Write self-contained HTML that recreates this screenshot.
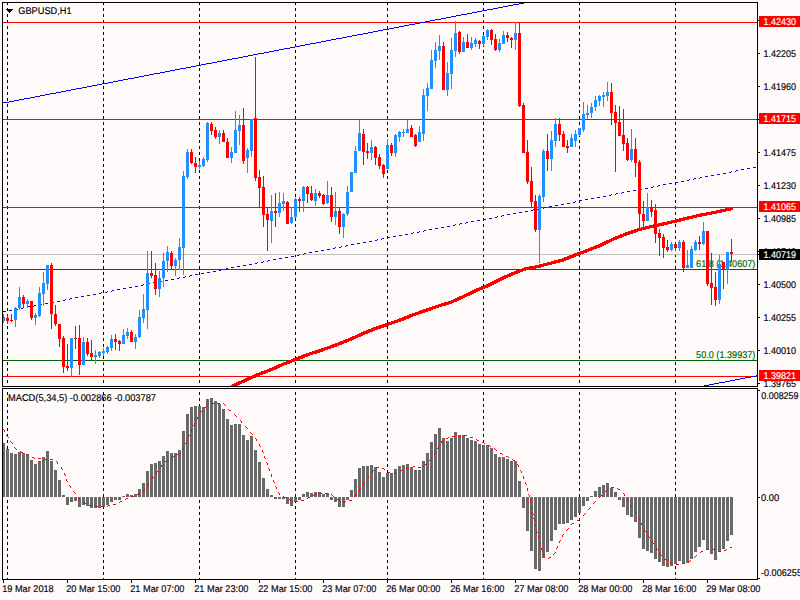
<!DOCTYPE html>
<html><head><meta charset="utf-8"><style>
html,body{margin:0;padding:0;background:#fffafa;}
body{width:800px;height:600px;overflow:hidden;}
svg{display:block;font-family:'Liberation Sans', sans-serif;} text{text-rendering:geometricPrecision;}
</style></head><body>
<svg width="800" height="600" viewBox="0 0 800 600" shape-rendering="crispEdges">
<rect x="0" y="0" width="800" height="600" fill="#fffafa"/>
<rect x="7" y="3" width="1" height="2" fill="#000"/>
<rect x="7" y="8" width="1" height="3" fill="#000"/>
<rect x="7" y="14" width="1" height="3" fill="#000"/>
<rect x="7" y="20" width="1" height="3" fill="#000"/>
<rect x="7" y="26" width="1" height="3" fill="#000"/>
<rect x="7" y="32" width="1" height="3" fill="#000"/>
<rect x="7" y="38" width="1" height="3" fill="#000"/>
<rect x="7" y="44" width="1" height="3" fill="#000"/>
<rect x="7" y="50" width="1" height="3" fill="#000"/>
<rect x="7" y="56" width="1" height="3" fill="#000"/>
<rect x="7" y="62" width="1" height="3" fill="#000"/>
<rect x="7" y="68" width="1" height="3" fill="#000"/>
<rect x="7" y="74" width="1" height="3" fill="#000"/>
<rect x="7" y="80" width="1" height="3" fill="#000"/>
<rect x="7" y="86" width="1" height="3" fill="#000"/>
<rect x="7" y="92" width="1" height="3" fill="#000"/>
<rect x="7" y="98" width="1" height="3" fill="#000"/>
<rect x="7" y="104" width="1" height="3" fill="#000"/>
<rect x="7" y="110" width="1" height="3" fill="#000"/>
<rect x="7" y="116" width="1" height="3" fill="#000"/>
<rect x="7" y="122" width="1" height="3" fill="#000"/>
<rect x="7" y="128" width="1" height="3" fill="#000"/>
<rect x="7" y="134" width="1" height="3" fill="#000"/>
<rect x="7" y="140" width="1" height="3" fill="#000"/>
<rect x="7" y="146" width="1" height="3" fill="#000"/>
<rect x="7" y="152" width="1" height="3" fill="#000"/>
<rect x="7" y="158" width="1" height="3" fill="#000"/>
<rect x="7" y="164" width="1" height="3" fill="#000"/>
<rect x="7" y="170" width="1" height="3" fill="#000"/>
<rect x="7" y="176" width="1" height="3" fill="#000"/>
<rect x="7" y="182" width="1" height="3" fill="#000"/>
<rect x="7" y="188" width="1" height="3" fill="#000"/>
<rect x="7" y="194" width="1" height="3" fill="#000"/>
<rect x="7" y="200" width="1" height="3" fill="#000"/>
<rect x="7" y="206" width="1" height="3" fill="#000"/>
<rect x="7" y="212" width="1" height="3" fill="#000"/>
<rect x="7" y="218" width="1" height="3" fill="#000"/>
<rect x="7" y="224" width="1" height="3" fill="#000"/>
<rect x="7" y="230" width="1" height="3" fill="#000"/>
<rect x="7" y="236" width="1" height="3" fill="#000"/>
<rect x="7" y="242" width="1" height="3" fill="#000"/>
<rect x="7" y="248" width="1" height="3" fill="#000"/>
<rect x="7" y="254" width="1" height="3" fill="#000"/>
<rect x="7" y="260" width="1" height="3" fill="#000"/>
<rect x="7" y="266" width="1" height="3" fill="#000"/>
<rect x="7" y="272" width="1" height="3" fill="#000"/>
<rect x="7" y="278" width="1" height="3" fill="#000"/>
<rect x="7" y="284" width="1" height="3" fill="#000"/>
<rect x="7" y="290" width="1" height="3" fill="#000"/>
<rect x="7" y="296" width="1" height="3" fill="#000"/>
<rect x="7" y="302" width="1" height="3" fill="#000"/>
<rect x="7" y="308" width="1" height="3" fill="#000"/>
<rect x="7" y="314" width="1" height="3" fill="#000"/>
<rect x="7" y="320" width="1" height="3" fill="#000"/>
<rect x="7" y="326" width="1" height="3" fill="#000"/>
<rect x="7" y="332" width="1" height="3" fill="#000"/>
<rect x="7" y="338" width="1" height="3" fill="#000"/>
<rect x="7" y="344" width="1" height="3" fill="#000"/>
<rect x="7" y="350" width="1" height="3" fill="#000"/>
<rect x="7" y="356" width="1" height="3" fill="#000"/>
<rect x="7" y="362" width="1" height="3" fill="#000"/>
<rect x="7" y="368" width="1" height="3" fill="#000"/>
<rect x="7" y="374" width="1" height="3" fill="#000"/>
<rect x="7" y="380" width="1" height="3" fill="#000"/>
<rect x="7" y="392" width="1" height="3" fill="#000"/>
<rect x="7" y="398" width="1" height="3" fill="#000"/>
<rect x="7" y="404" width="1" height="3" fill="#000"/>
<rect x="7" y="410" width="1" height="3" fill="#000"/>
<rect x="7" y="416" width="1" height="3" fill="#000"/>
<rect x="7" y="422" width="1" height="3" fill="#000"/>
<rect x="7" y="428" width="1" height="3" fill="#000"/>
<rect x="7" y="434" width="1" height="3" fill="#000"/>
<rect x="7" y="440" width="1" height="3" fill="#000"/>
<rect x="7" y="446" width="1" height="3" fill="#000"/>
<rect x="7" y="452" width="1" height="3" fill="#000"/>
<rect x="7" y="458" width="1" height="3" fill="#000"/>
<rect x="7" y="464" width="1" height="3" fill="#000"/>
<rect x="7" y="470" width="1" height="3" fill="#000"/>
<rect x="7" y="476" width="1" height="3" fill="#000"/>
<rect x="7" y="482" width="1" height="3" fill="#000"/>
<rect x="7" y="488" width="1" height="3" fill="#000"/>
<rect x="7" y="494" width="1" height="3" fill="#000"/>
<rect x="7" y="500" width="1" height="3" fill="#000"/>
<rect x="7" y="506" width="1" height="3" fill="#000"/>
<rect x="7" y="512" width="1" height="3" fill="#000"/>
<rect x="7" y="518" width="1" height="3" fill="#000"/>
<rect x="7" y="524" width="1" height="3" fill="#000"/>
<rect x="7" y="530" width="1" height="3" fill="#000"/>
<rect x="7" y="536" width="1" height="3" fill="#000"/>
<rect x="7" y="542" width="1" height="3" fill="#000"/>
<rect x="7" y="548" width="1" height="3" fill="#000"/>
<rect x="7" y="554" width="1" height="3" fill="#000"/>
<rect x="7" y="560" width="1" height="3" fill="#000"/>
<rect x="7" y="566" width="1" height="3" fill="#000"/>
<rect x="7" y="572" width="1" height="3" fill="#000"/>
<rect x="7" y="578" width="1" height="1" fill="#000"/>
<rect x="103" y="3" width="1" height="2" fill="#000"/>
<rect x="103" y="8" width="1" height="3" fill="#000"/>
<rect x="103" y="14" width="1" height="3" fill="#000"/>
<rect x="103" y="20" width="1" height="3" fill="#000"/>
<rect x="103" y="26" width="1" height="3" fill="#000"/>
<rect x="103" y="32" width="1" height="3" fill="#000"/>
<rect x="103" y="38" width="1" height="3" fill="#000"/>
<rect x="103" y="44" width="1" height="3" fill="#000"/>
<rect x="103" y="50" width="1" height="3" fill="#000"/>
<rect x="103" y="56" width="1" height="3" fill="#000"/>
<rect x="103" y="62" width="1" height="3" fill="#000"/>
<rect x="103" y="68" width="1" height="3" fill="#000"/>
<rect x="103" y="74" width="1" height="3" fill="#000"/>
<rect x="103" y="80" width="1" height="3" fill="#000"/>
<rect x="103" y="86" width="1" height="3" fill="#000"/>
<rect x="103" y="92" width="1" height="3" fill="#000"/>
<rect x="103" y="98" width="1" height="3" fill="#000"/>
<rect x="103" y="104" width="1" height="3" fill="#000"/>
<rect x="103" y="110" width="1" height="3" fill="#000"/>
<rect x="103" y="116" width="1" height="3" fill="#000"/>
<rect x="103" y="122" width="1" height="3" fill="#000"/>
<rect x="103" y="128" width="1" height="3" fill="#000"/>
<rect x="103" y="134" width="1" height="3" fill="#000"/>
<rect x="103" y="140" width="1" height="3" fill="#000"/>
<rect x="103" y="146" width="1" height="3" fill="#000"/>
<rect x="103" y="152" width="1" height="3" fill="#000"/>
<rect x="103" y="158" width="1" height="3" fill="#000"/>
<rect x="103" y="164" width="1" height="3" fill="#000"/>
<rect x="103" y="170" width="1" height="3" fill="#000"/>
<rect x="103" y="176" width="1" height="3" fill="#000"/>
<rect x="103" y="182" width="1" height="3" fill="#000"/>
<rect x="103" y="188" width="1" height="3" fill="#000"/>
<rect x="103" y="194" width="1" height="3" fill="#000"/>
<rect x="103" y="200" width="1" height="3" fill="#000"/>
<rect x="103" y="206" width="1" height="3" fill="#000"/>
<rect x="103" y="212" width="1" height="3" fill="#000"/>
<rect x="103" y="218" width="1" height="3" fill="#000"/>
<rect x="103" y="224" width="1" height="3" fill="#000"/>
<rect x="103" y="230" width="1" height="3" fill="#000"/>
<rect x="103" y="236" width="1" height="3" fill="#000"/>
<rect x="103" y="242" width="1" height="3" fill="#000"/>
<rect x="103" y="248" width="1" height="3" fill="#000"/>
<rect x="103" y="254" width="1" height="3" fill="#000"/>
<rect x="103" y="260" width="1" height="3" fill="#000"/>
<rect x="103" y="266" width="1" height="3" fill="#000"/>
<rect x="103" y="272" width="1" height="3" fill="#000"/>
<rect x="103" y="278" width="1" height="3" fill="#000"/>
<rect x="103" y="284" width="1" height="3" fill="#000"/>
<rect x="103" y="290" width="1" height="3" fill="#000"/>
<rect x="103" y="296" width="1" height="3" fill="#000"/>
<rect x="103" y="302" width="1" height="3" fill="#000"/>
<rect x="103" y="308" width="1" height="3" fill="#000"/>
<rect x="103" y="314" width="1" height="3" fill="#000"/>
<rect x="103" y="320" width="1" height="3" fill="#000"/>
<rect x="103" y="326" width="1" height="3" fill="#000"/>
<rect x="103" y="332" width="1" height="3" fill="#000"/>
<rect x="103" y="338" width="1" height="3" fill="#000"/>
<rect x="103" y="344" width="1" height="3" fill="#000"/>
<rect x="103" y="350" width="1" height="3" fill="#000"/>
<rect x="103" y="356" width="1" height="3" fill="#000"/>
<rect x="103" y="362" width="1" height="3" fill="#000"/>
<rect x="103" y="368" width="1" height="3" fill="#000"/>
<rect x="103" y="374" width="1" height="3" fill="#000"/>
<rect x="103" y="380" width="1" height="3" fill="#000"/>
<rect x="103" y="392" width="1" height="3" fill="#000"/>
<rect x="103" y="398" width="1" height="3" fill="#000"/>
<rect x="103" y="404" width="1" height="3" fill="#000"/>
<rect x="103" y="410" width="1" height="3" fill="#000"/>
<rect x="103" y="416" width="1" height="3" fill="#000"/>
<rect x="103" y="422" width="1" height="3" fill="#000"/>
<rect x="103" y="428" width="1" height="3" fill="#000"/>
<rect x="103" y="434" width="1" height="3" fill="#000"/>
<rect x="103" y="440" width="1" height="3" fill="#000"/>
<rect x="103" y="446" width="1" height="3" fill="#000"/>
<rect x="103" y="452" width="1" height="3" fill="#000"/>
<rect x="103" y="458" width="1" height="3" fill="#000"/>
<rect x="103" y="464" width="1" height="3" fill="#000"/>
<rect x="103" y="470" width="1" height="3" fill="#000"/>
<rect x="103" y="476" width="1" height="3" fill="#000"/>
<rect x="103" y="482" width="1" height="3" fill="#000"/>
<rect x="103" y="488" width="1" height="3" fill="#000"/>
<rect x="103" y="494" width="1" height="3" fill="#000"/>
<rect x="103" y="500" width="1" height="3" fill="#000"/>
<rect x="103" y="506" width="1" height="3" fill="#000"/>
<rect x="103" y="512" width="1" height="3" fill="#000"/>
<rect x="103" y="518" width="1" height="3" fill="#000"/>
<rect x="103" y="524" width="1" height="3" fill="#000"/>
<rect x="103" y="530" width="1" height="3" fill="#000"/>
<rect x="103" y="536" width="1" height="3" fill="#000"/>
<rect x="103" y="542" width="1" height="3" fill="#000"/>
<rect x="103" y="548" width="1" height="3" fill="#000"/>
<rect x="103" y="554" width="1" height="3" fill="#000"/>
<rect x="103" y="560" width="1" height="3" fill="#000"/>
<rect x="103" y="566" width="1" height="3" fill="#000"/>
<rect x="103" y="572" width="1" height="3" fill="#000"/>
<rect x="103" y="578" width="1" height="1" fill="#000"/>
<rect x="199" y="3" width="1" height="2" fill="#000"/>
<rect x="199" y="8" width="1" height="3" fill="#000"/>
<rect x="199" y="14" width="1" height="3" fill="#000"/>
<rect x="199" y="20" width="1" height="3" fill="#000"/>
<rect x="199" y="26" width="1" height="3" fill="#000"/>
<rect x="199" y="32" width="1" height="3" fill="#000"/>
<rect x="199" y="38" width="1" height="3" fill="#000"/>
<rect x="199" y="44" width="1" height="3" fill="#000"/>
<rect x="199" y="50" width="1" height="3" fill="#000"/>
<rect x="199" y="56" width="1" height="3" fill="#000"/>
<rect x="199" y="62" width="1" height="3" fill="#000"/>
<rect x="199" y="68" width="1" height="3" fill="#000"/>
<rect x="199" y="74" width="1" height="3" fill="#000"/>
<rect x="199" y="80" width="1" height="3" fill="#000"/>
<rect x="199" y="86" width="1" height="3" fill="#000"/>
<rect x="199" y="92" width="1" height="3" fill="#000"/>
<rect x="199" y="98" width="1" height="3" fill="#000"/>
<rect x="199" y="104" width="1" height="3" fill="#000"/>
<rect x="199" y="110" width="1" height="3" fill="#000"/>
<rect x="199" y="116" width="1" height="3" fill="#000"/>
<rect x="199" y="122" width="1" height="3" fill="#000"/>
<rect x="199" y="128" width="1" height="3" fill="#000"/>
<rect x="199" y="134" width="1" height="3" fill="#000"/>
<rect x="199" y="140" width="1" height="3" fill="#000"/>
<rect x="199" y="146" width="1" height="3" fill="#000"/>
<rect x="199" y="152" width="1" height="3" fill="#000"/>
<rect x="199" y="158" width="1" height="3" fill="#000"/>
<rect x="199" y="164" width="1" height="3" fill="#000"/>
<rect x="199" y="170" width="1" height="3" fill="#000"/>
<rect x="199" y="176" width="1" height="3" fill="#000"/>
<rect x="199" y="182" width="1" height="3" fill="#000"/>
<rect x="199" y="188" width="1" height="3" fill="#000"/>
<rect x="199" y="194" width="1" height="3" fill="#000"/>
<rect x="199" y="200" width="1" height="3" fill="#000"/>
<rect x="199" y="206" width="1" height="3" fill="#000"/>
<rect x="199" y="212" width="1" height="3" fill="#000"/>
<rect x="199" y="218" width="1" height="3" fill="#000"/>
<rect x="199" y="224" width="1" height="3" fill="#000"/>
<rect x="199" y="230" width="1" height="3" fill="#000"/>
<rect x="199" y="236" width="1" height="3" fill="#000"/>
<rect x="199" y="242" width="1" height="3" fill="#000"/>
<rect x="199" y="248" width="1" height="3" fill="#000"/>
<rect x="199" y="254" width="1" height="3" fill="#000"/>
<rect x="199" y="260" width="1" height="3" fill="#000"/>
<rect x="199" y="266" width="1" height="3" fill="#000"/>
<rect x="199" y="272" width="1" height="3" fill="#000"/>
<rect x="199" y="278" width="1" height="3" fill="#000"/>
<rect x="199" y="284" width="1" height="3" fill="#000"/>
<rect x="199" y="290" width="1" height="3" fill="#000"/>
<rect x="199" y="296" width="1" height="3" fill="#000"/>
<rect x="199" y="302" width="1" height="3" fill="#000"/>
<rect x="199" y="308" width="1" height="3" fill="#000"/>
<rect x="199" y="314" width="1" height="3" fill="#000"/>
<rect x="199" y="320" width="1" height="3" fill="#000"/>
<rect x="199" y="326" width="1" height="3" fill="#000"/>
<rect x="199" y="332" width="1" height="3" fill="#000"/>
<rect x="199" y="338" width="1" height="3" fill="#000"/>
<rect x="199" y="344" width="1" height="3" fill="#000"/>
<rect x="199" y="350" width="1" height="3" fill="#000"/>
<rect x="199" y="356" width="1" height="3" fill="#000"/>
<rect x="199" y="362" width="1" height="3" fill="#000"/>
<rect x="199" y="368" width="1" height="3" fill="#000"/>
<rect x="199" y="374" width="1" height="3" fill="#000"/>
<rect x="199" y="380" width="1" height="3" fill="#000"/>
<rect x="199" y="392" width="1" height="3" fill="#000"/>
<rect x="199" y="398" width="1" height="3" fill="#000"/>
<rect x="199" y="404" width="1" height="3" fill="#000"/>
<rect x="199" y="410" width="1" height="3" fill="#000"/>
<rect x="199" y="416" width="1" height="3" fill="#000"/>
<rect x="199" y="422" width="1" height="3" fill="#000"/>
<rect x="199" y="428" width="1" height="3" fill="#000"/>
<rect x="199" y="434" width="1" height="3" fill="#000"/>
<rect x="199" y="440" width="1" height="3" fill="#000"/>
<rect x="199" y="446" width="1" height="3" fill="#000"/>
<rect x="199" y="452" width="1" height="3" fill="#000"/>
<rect x="199" y="458" width="1" height="3" fill="#000"/>
<rect x="199" y="464" width="1" height="3" fill="#000"/>
<rect x="199" y="470" width="1" height="3" fill="#000"/>
<rect x="199" y="476" width="1" height="3" fill="#000"/>
<rect x="199" y="482" width="1" height="3" fill="#000"/>
<rect x="199" y="488" width="1" height="3" fill="#000"/>
<rect x="199" y="494" width="1" height="3" fill="#000"/>
<rect x="199" y="500" width="1" height="3" fill="#000"/>
<rect x="199" y="506" width="1" height="3" fill="#000"/>
<rect x="199" y="512" width="1" height="3" fill="#000"/>
<rect x="199" y="518" width="1" height="3" fill="#000"/>
<rect x="199" y="524" width="1" height="3" fill="#000"/>
<rect x="199" y="530" width="1" height="3" fill="#000"/>
<rect x="199" y="536" width="1" height="3" fill="#000"/>
<rect x="199" y="542" width="1" height="3" fill="#000"/>
<rect x="199" y="548" width="1" height="3" fill="#000"/>
<rect x="199" y="554" width="1" height="3" fill="#000"/>
<rect x="199" y="560" width="1" height="3" fill="#000"/>
<rect x="199" y="566" width="1" height="3" fill="#000"/>
<rect x="199" y="572" width="1" height="3" fill="#000"/>
<rect x="199" y="578" width="1" height="1" fill="#000"/>
<rect x="295" y="3" width="1" height="2" fill="#000"/>
<rect x="295" y="8" width="1" height="3" fill="#000"/>
<rect x="295" y="14" width="1" height="3" fill="#000"/>
<rect x="295" y="20" width="1" height="3" fill="#000"/>
<rect x="295" y="26" width="1" height="3" fill="#000"/>
<rect x="295" y="32" width="1" height="3" fill="#000"/>
<rect x="295" y="38" width="1" height="3" fill="#000"/>
<rect x="295" y="44" width="1" height="3" fill="#000"/>
<rect x="295" y="50" width="1" height="3" fill="#000"/>
<rect x="295" y="56" width="1" height="3" fill="#000"/>
<rect x="295" y="62" width="1" height="3" fill="#000"/>
<rect x="295" y="68" width="1" height="3" fill="#000"/>
<rect x="295" y="74" width="1" height="3" fill="#000"/>
<rect x="295" y="80" width="1" height="3" fill="#000"/>
<rect x="295" y="86" width="1" height="3" fill="#000"/>
<rect x="295" y="92" width="1" height="3" fill="#000"/>
<rect x="295" y="98" width="1" height="3" fill="#000"/>
<rect x="295" y="104" width="1" height="3" fill="#000"/>
<rect x="295" y="110" width="1" height="3" fill="#000"/>
<rect x="295" y="116" width="1" height="3" fill="#000"/>
<rect x="295" y="122" width="1" height="3" fill="#000"/>
<rect x="295" y="128" width="1" height="3" fill="#000"/>
<rect x="295" y="134" width="1" height="3" fill="#000"/>
<rect x="295" y="140" width="1" height="3" fill="#000"/>
<rect x="295" y="146" width="1" height="3" fill="#000"/>
<rect x="295" y="152" width="1" height="3" fill="#000"/>
<rect x="295" y="158" width="1" height="3" fill="#000"/>
<rect x="295" y="164" width="1" height="3" fill="#000"/>
<rect x="295" y="170" width="1" height="3" fill="#000"/>
<rect x="295" y="176" width="1" height="3" fill="#000"/>
<rect x="295" y="182" width="1" height="3" fill="#000"/>
<rect x="295" y="188" width="1" height="3" fill="#000"/>
<rect x="295" y="194" width="1" height="3" fill="#000"/>
<rect x="295" y="200" width="1" height="3" fill="#000"/>
<rect x="295" y="206" width="1" height="3" fill="#000"/>
<rect x="295" y="212" width="1" height="3" fill="#000"/>
<rect x="295" y="218" width="1" height="3" fill="#000"/>
<rect x="295" y="224" width="1" height="3" fill="#000"/>
<rect x="295" y="230" width="1" height="3" fill="#000"/>
<rect x="295" y="236" width="1" height="3" fill="#000"/>
<rect x="295" y="242" width="1" height="3" fill="#000"/>
<rect x="295" y="248" width="1" height="3" fill="#000"/>
<rect x="295" y="254" width="1" height="3" fill="#000"/>
<rect x="295" y="260" width="1" height="3" fill="#000"/>
<rect x="295" y="266" width="1" height="3" fill="#000"/>
<rect x="295" y="272" width="1" height="3" fill="#000"/>
<rect x="295" y="278" width="1" height="3" fill="#000"/>
<rect x="295" y="284" width="1" height="3" fill="#000"/>
<rect x="295" y="290" width="1" height="3" fill="#000"/>
<rect x="295" y="296" width="1" height="3" fill="#000"/>
<rect x="295" y="302" width="1" height="3" fill="#000"/>
<rect x="295" y="308" width="1" height="3" fill="#000"/>
<rect x="295" y="314" width="1" height="3" fill="#000"/>
<rect x="295" y="320" width="1" height="3" fill="#000"/>
<rect x="295" y="326" width="1" height="3" fill="#000"/>
<rect x="295" y="332" width="1" height="3" fill="#000"/>
<rect x="295" y="338" width="1" height="3" fill="#000"/>
<rect x="295" y="344" width="1" height="3" fill="#000"/>
<rect x="295" y="350" width="1" height="3" fill="#000"/>
<rect x="295" y="356" width="1" height="3" fill="#000"/>
<rect x="295" y="362" width="1" height="3" fill="#000"/>
<rect x="295" y="368" width="1" height="3" fill="#000"/>
<rect x="295" y="374" width="1" height="3" fill="#000"/>
<rect x="295" y="380" width="1" height="3" fill="#000"/>
<rect x="295" y="392" width="1" height="3" fill="#000"/>
<rect x="295" y="398" width="1" height="3" fill="#000"/>
<rect x="295" y="404" width="1" height="3" fill="#000"/>
<rect x="295" y="410" width="1" height="3" fill="#000"/>
<rect x="295" y="416" width="1" height="3" fill="#000"/>
<rect x="295" y="422" width="1" height="3" fill="#000"/>
<rect x="295" y="428" width="1" height="3" fill="#000"/>
<rect x="295" y="434" width="1" height="3" fill="#000"/>
<rect x="295" y="440" width="1" height="3" fill="#000"/>
<rect x="295" y="446" width="1" height="3" fill="#000"/>
<rect x="295" y="452" width="1" height="3" fill="#000"/>
<rect x="295" y="458" width="1" height="3" fill="#000"/>
<rect x="295" y="464" width="1" height="3" fill="#000"/>
<rect x="295" y="470" width="1" height="3" fill="#000"/>
<rect x="295" y="476" width="1" height="3" fill="#000"/>
<rect x="295" y="482" width="1" height="3" fill="#000"/>
<rect x="295" y="488" width="1" height="3" fill="#000"/>
<rect x="295" y="494" width="1" height="3" fill="#000"/>
<rect x="295" y="500" width="1" height="3" fill="#000"/>
<rect x="295" y="506" width="1" height="3" fill="#000"/>
<rect x="295" y="512" width="1" height="3" fill="#000"/>
<rect x="295" y="518" width="1" height="3" fill="#000"/>
<rect x="295" y="524" width="1" height="3" fill="#000"/>
<rect x="295" y="530" width="1" height="3" fill="#000"/>
<rect x="295" y="536" width="1" height="3" fill="#000"/>
<rect x="295" y="542" width="1" height="3" fill="#000"/>
<rect x="295" y="548" width="1" height="3" fill="#000"/>
<rect x="295" y="554" width="1" height="3" fill="#000"/>
<rect x="295" y="560" width="1" height="3" fill="#000"/>
<rect x="295" y="566" width="1" height="3" fill="#000"/>
<rect x="295" y="572" width="1" height="3" fill="#000"/>
<rect x="295" y="578" width="1" height="1" fill="#000"/>
<rect x="387" y="3" width="1" height="2" fill="#000"/>
<rect x="387" y="8" width="1" height="3" fill="#000"/>
<rect x="387" y="14" width="1" height="3" fill="#000"/>
<rect x="387" y="20" width="1" height="3" fill="#000"/>
<rect x="387" y="26" width="1" height="3" fill="#000"/>
<rect x="387" y="32" width="1" height="3" fill="#000"/>
<rect x="387" y="38" width="1" height="3" fill="#000"/>
<rect x="387" y="44" width="1" height="3" fill="#000"/>
<rect x="387" y="50" width="1" height="3" fill="#000"/>
<rect x="387" y="56" width="1" height="3" fill="#000"/>
<rect x="387" y="62" width="1" height="3" fill="#000"/>
<rect x="387" y="68" width="1" height="3" fill="#000"/>
<rect x="387" y="74" width="1" height="3" fill="#000"/>
<rect x="387" y="80" width="1" height="3" fill="#000"/>
<rect x="387" y="86" width="1" height="3" fill="#000"/>
<rect x="387" y="92" width="1" height="3" fill="#000"/>
<rect x="387" y="98" width="1" height="3" fill="#000"/>
<rect x="387" y="104" width="1" height="3" fill="#000"/>
<rect x="387" y="110" width="1" height="3" fill="#000"/>
<rect x="387" y="116" width="1" height="3" fill="#000"/>
<rect x="387" y="122" width="1" height="3" fill="#000"/>
<rect x="387" y="128" width="1" height="3" fill="#000"/>
<rect x="387" y="134" width="1" height="3" fill="#000"/>
<rect x="387" y="140" width="1" height="3" fill="#000"/>
<rect x="387" y="146" width="1" height="3" fill="#000"/>
<rect x="387" y="152" width="1" height="3" fill="#000"/>
<rect x="387" y="158" width="1" height="3" fill="#000"/>
<rect x="387" y="164" width="1" height="3" fill="#000"/>
<rect x="387" y="170" width="1" height="3" fill="#000"/>
<rect x="387" y="176" width="1" height="3" fill="#000"/>
<rect x="387" y="182" width="1" height="3" fill="#000"/>
<rect x="387" y="188" width="1" height="3" fill="#000"/>
<rect x="387" y="194" width="1" height="3" fill="#000"/>
<rect x="387" y="200" width="1" height="3" fill="#000"/>
<rect x="387" y="206" width="1" height="3" fill="#000"/>
<rect x="387" y="212" width="1" height="3" fill="#000"/>
<rect x="387" y="218" width="1" height="3" fill="#000"/>
<rect x="387" y="224" width="1" height="3" fill="#000"/>
<rect x="387" y="230" width="1" height="3" fill="#000"/>
<rect x="387" y="236" width="1" height="3" fill="#000"/>
<rect x="387" y="242" width="1" height="3" fill="#000"/>
<rect x="387" y="248" width="1" height="3" fill="#000"/>
<rect x="387" y="254" width="1" height="3" fill="#000"/>
<rect x="387" y="260" width="1" height="3" fill="#000"/>
<rect x="387" y="266" width="1" height="3" fill="#000"/>
<rect x="387" y="272" width="1" height="3" fill="#000"/>
<rect x="387" y="278" width="1" height="3" fill="#000"/>
<rect x="387" y="284" width="1" height="3" fill="#000"/>
<rect x="387" y="290" width="1" height="3" fill="#000"/>
<rect x="387" y="296" width="1" height="3" fill="#000"/>
<rect x="387" y="302" width="1" height="3" fill="#000"/>
<rect x="387" y="308" width="1" height="3" fill="#000"/>
<rect x="387" y="314" width="1" height="3" fill="#000"/>
<rect x="387" y="320" width="1" height="3" fill="#000"/>
<rect x="387" y="326" width="1" height="3" fill="#000"/>
<rect x="387" y="332" width="1" height="3" fill="#000"/>
<rect x="387" y="338" width="1" height="3" fill="#000"/>
<rect x="387" y="344" width="1" height="3" fill="#000"/>
<rect x="387" y="350" width="1" height="3" fill="#000"/>
<rect x="387" y="356" width="1" height="3" fill="#000"/>
<rect x="387" y="362" width="1" height="3" fill="#000"/>
<rect x="387" y="368" width="1" height="3" fill="#000"/>
<rect x="387" y="374" width="1" height="3" fill="#000"/>
<rect x="387" y="380" width="1" height="3" fill="#000"/>
<rect x="387" y="392" width="1" height="3" fill="#000"/>
<rect x="387" y="398" width="1" height="3" fill="#000"/>
<rect x="387" y="404" width="1" height="3" fill="#000"/>
<rect x="387" y="410" width="1" height="3" fill="#000"/>
<rect x="387" y="416" width="1" height="3" fill="#000"/>
<rect x="387" y="422" width="1" height="3" fill="#000"/>
<rect x="387" y="428" width="1" height="3" fill="#000"/>
<rect x="387" y="434" width="1" height="3" fill="#000"/>
<rect x="387" y="440" width="1" height="3" fill="#000"/>
<rect x="387" y="446" width="1" height="3" fill="#000"/>
<rect x="387" y="452" width="1" height="3" fill="#000"/>
<rect x="387" y="458" width="1" height="3" fill="#000"/>
<rect x="387" y="464" width="1" height="3" fill="#000"/>
<rect x="387" y="470" width="1" height="3" fill="#000"/>
<rect x="387" y="476" width="1" height="3" fill="#000"/>
<rect x="387" y="482" width="1" height="3" fill="#000"/>
<rect x="387" y="488" width="1" height="3" fill="#000"/>
<rect x="387" y="494" width="1" height="3" fill="#000"/>
<rect x="387" y="500" width="1" height="3" fill="#000"/>
<rect x="387" y="506" width="1" height="3" fill="#000"/>
<rect x="387" y="512" width="1" height="3" fill="#000"/>
<rect x="387" y="518" width="1" height="3" fill="#000"/>
<rect x="387" y="524" width="1" height="3" fill="#000"/>
<rect x="387" y="530" width="1" height="3" fill="#000"/>
<rect x="387" y="536" width="1" height="3" fill="#000"/>
<rect x="387" y="542" width="1" height="3" fill="#000"/>
<rect x="387" y="548" width="1" height="3" fill="#000"/>
<rect x="387" y="554" width="1" height="3" fill="#000"/>
<rect x="387" y="560" width="1" height="3" fill="#000"/>
<rect x="387" y="566" width="1" height="3" fill="#000"/>
<rect x="387" y="572" width="1" height="3" fill="#000"/>
<rect x="387" y="578" width="1" height="1" fill="#000"/>
<rect x="483" y="3" width="1" height="2" fill="#000"/>
<rect x="483" y="8" width="1" height="3" fill="#000"/>
<rect x="483" y="14" width="1" height="3" fill="#000"/>
<rect x="483" y="20" width="1" height="3" fill="#000"/>
<rect x="483" y="26" width="1" height="3" fill="#000"/>
<rect x="483" y="32" width="1" height="3" fill="#000"/>
<rect x="483" y="38" width="1" height="3" fill="#000"/>
<rect x="483" y="44" width="1" height="3" fill="#000"/>
<rect x="483" y="50" width="1" height="3" fill="#000"/>
<rect x="483" y="56" width="1" height="3" fill="#000"/>
<rect x="483" y="62" width="1" height="3" fill="#000"/>
<rect x="483" y="68" width="1" height="3" fill="#000"/>
<rect x="483" y="74" width="1" height="3" fill="#000"/>
<rect x="483" y="80" width="1" height="3" fill="#000"/>
<rect x="483" y="86" width="1" height="3" fill="#000"/>
<rect x="483" y="92" width="1" height="3" fill="#000"/>
<rect x="483" y="98" width="1" height="3" fill="#000"/>
<rect x="483" y="104" width="1" height="3" fill="#000"/>
<rect x="483" y="110" width="1" height="3" fill="#000"/>
<rect x="483" y="116" width="1" height="3" fill="#000"/>
<rect x="483" y="122" width="1" height="3" fill="#000"/>
<rect x="483" y="128" width="1" height="3" fill="#000"/>
<rect x="483" y="134" width="1" height="3" fill="#000"/>
<rect x="483" y="140" width="1" height="3" fill="#000"/>
<rect x="483" y="146" width="1" height="3" fill="#000"/>
<rect x="483" y="152" width="1" height="3" fill="#000"/>
<rect x="483" y="158" width="1" height="3" fill="#000"/>
<rect x="483" y="164" width="1" height="3" fill="#000"/>
<rect x="483" y="170" width="1" height="3" fill="#000"/>
<rect x="483" y="176" width="1" height="3" fill="#000"/>
<rect x="483" y="182" width="1" height="3" fill="#000"/>
<rect x="483" y="188" width="1" height="3" fill="#000"/>
<rect x="483" y="194" width="1" height="3" fill="#000"/>
<rect x="483" y="200" width="1" height="3" fill="#000"/>
<rect x="483" y="206" width="1" height="3" fill="#000"/>
<rect x="483" y="212" width="1" height="3" fill="#000"/>
<rect x="483" y="218" width="1" height="3" fill="#000"/>
<rect x="483" y="224" width="1" height="3" fill="#000"/>
<rect x="483" y="230" width="1" height="3" fill="#000"/>
<rect x="483" y="236" width="1" height="3" fill="#000"/>
<rect x="483" y="242" width="1" height="3" fill="#000"/>
<rect x="483" y="248" width="1" height="3" fill="#000"/>
<rect x="483" y="254" width="1" height="3" fill="#000"/>
<rect x="483" y="260" width="1" height="3" fill="#000"/>
<rect x="483" y="266" width="1" height="3" fill="#000"/>
<rect x="483" y="272" width="1" height="3" fill="#000"/>
<rect x="483" y="278" width="1" height="3" fill="#000"/>
<rect x="483" y="284" width="1" height="3" fill="#000"/>
<rect x="483" y="290" width="1" height="3" fill="#000"/>
<rect x="483" y="296" width="1" height="3" fill="#000"/>
<rect x="483" y="302" width="1" height="3" fill="#000"/>
<rect x="483" y="308" width="1" height="3" fill="#000"/>
<rect x="483" y="314" width="1" height="3" fill="#000"/>
<rect x="483" y="320" width="1" height="3" fill="#000"/>
<rect x="483" y="326" width="1" height="3" fill="#000"/>
<rect x="483" y="332" width="1" height="3" fill="#000"/>
<rect x="483" y="338" width="1" height="3" fill="#000"/>
<rect x="483" y="344" width="1" height="3" fill="#000"/>
<rect x="483" y="350" width="1" height="3" fill="#000"/>
<rect x="483" y="356" width="1" height="3" fill="#000"/>
<rect x="483" y="362" width="1" height="3" fill="#000"/>
<rect x="483" y="368" width="1" height="3" fill="#000"/>
<rect x="483" y="374" width="1" height="3" fill="#000"/>
<rect x="483" y="380" width="1" height="3" fill="#000"/>
<rect x="483" y="392" width="1" height="3" fill="#000"/>
<rect x="483" y="398" width="1" height="3" fill="#000"/>
<rect x="483" y="404" width="1" height="3" fill="#000"/>
<rect x="483" y="410" width="1" height="3" fill="#000"/>
<rect x="483" y="416" width="1" height="3" fill="#000"/>
<rect x="483" y="422" width="1" height="3" fill="#000"/>
<rect x="483" y="428" width="1" height="3" fill="#000"/>
<rect x="483" y="434" width="1" height="3" fill="#000"/>
<rect x="483" y="440" width="1" height="3" fill="#000"/>
<rect x="483" y="446" width="1" height="3" fill="#000"/>
<rect x="483" y="452" width="1" height="3" fill="#000"/>
<rect x="483" y="458" width="1" height="3" fill="#000"/>
<rect x="483" y="464" width="1" height="3" fill="#000"/>
<rect x="483" y="470" width="1" height="3" fill="#000"/>
<rect x="483" y="476" width="1" height="3" fill="#000"/>
<rect x="483" y="482" width="1" height="3" fill="#000"/>
<rect x="483" y="488" width="1" height="3" fill="#000"/>
<rect x="483" y="494" width="1" height="3" fill="#000"/>
<rect x="483" y="500" width="1" height="3" fill="#000"/>
<rect x="483" y="506" width="1" height="3" fill="#000"/>
<rect x="483" y="512" width="1" height="3" fill="#000"/>
<rect x="483" y="518" width="1" height="3" fill="#000"/>
<rect x="483" y="524" width="1" height="3" fill="#000"/>
<rect x="483" y="530" width="1" height="3" fill="#000"/>
<rect x="483" y="536" width="1" height="3" fill="#000"/>
<rect x="483" y="542" width="1" height="3" fill="#000"/>
<rect x="483" y="548" width="1" height="3" fill="#000"/>
<rect x="483" y="554" width="1" height="3" fill="#000"/>
<rect x="483" y="560" width="1" height="3" fill="#000"/>
<rect x="483" y="566" width="1" height="3" fill="#000"/>
<rect x="483" y="572" width="1" height="3" fill="#000"/>
<rect x="483" y="578" width="1" height="1" fill="#000"/>
<rect x="579" y="3" width="1" height="2" fill="#000"/>
<rect x="579" y="8" width="1" height="3" fill="#000"/>
<rect x="579" y="14" width="1" height="3" fill="#000"/>
<rect x="579" y="20" width="1" height="3" fill="#000"/>
<rect x="579" y="26" width="1" height="3" fill="#000"/>
<rect x="579" y="32" width="1" height="3" fill="#000"/>
<rect x="579" y="38" width="1" height="3" fill="#000"/>
<rect x="579" y="44" width="1" height="3" fill="#000"/>
<rect x="579" y="50" width="1" height="3" fill="#000"/>
<rect x="579" y="56" width="1" height="3" fill="#000"/>
<rect x="579" y="62" width="1" height="3" fill="#000"/>
<rect x="579" y="68" width="1" height="3" fill="#000"/>
<rect x="579" y="74" width="1" height="3" fill="#000"/>
<rect x="579" y="80" width="1" height="3" fill="#000"/>
<rect x="579" y="86" width="1" height="3" fill="#000"/>
<rect x="579" y="92" width="1" height="3" fill="#000"/>
<rect x="579" y="98" width="1" height="3" fill="#000"/>
<rect x="579" y="104" width="1" height="3" fill="#000"/>
<rect x="579" y="110" width="1" height="3" fill="#000"/>
<rect x="579" y="116" width="1" height="3" fill="#000"/>
<rect x="579" y="122" width="1" height="3" fill="#000"/>
<rect x="579" y="128" width="1" height="3" fill="#000"/>
<rect x="579" y="134" width="1" height="3" fill="#000"/>
<rect x="579" y="140" width="1" height="3" fill="#000"/>
<rect x="579" y="146" width="1" height="3" fill="#000"/>
<rect x="579" y="152" width="1" height="3" fill="#000"/>
<rect x="579" y="158" width="1" height="3" fill="#000"/>
<rect x="579" y="164" width="1" height="3" fill="#000"/>
<rect x="579" y="170" width="1" height="3" fill="#000"/>
<rect x="579" y="176" width="1" height="3" fill="#000"/>
<rect x="579" y="182" width="1" height="3" fill="#000"/>
<rect x="579" y="188" width="1" height="3" fill="#000"/>
<rect x="579" y="194" width="1" height="3" fill="#000"/>
<rect x="579" y="200" width="1" height="3" fill="#000"/>
<rect x="579" y="206" width="1" height="3" fill="#000"/>
<rect x="579" y="212" width="1" height="3" fill="#000"/>
<rect x="579" y="218" width="1" height="3" fill="#000"/>
<rect x="579" y="224" width="1" height="3" fill="#000"/>
<rect x="579" y="230" width="1" height="3" fill="#000"/>
<rect x="579" y="236" width="1" height="3" fill="#000"/>
<rect x="579" y="242" width="1" height="3" fill="#000"/>
<rect x="579" y="248" width="1" height="3" fill="#000"/>
<rect x="579" y="254" width="1" height="3" fill="#000"/>
<rect x="579" y="260" width="1" height="3" fill="#000"/>
<rect x="579" y="266" width="1" height="3" fill="#000"/>
<rect x="579" y="272" width="1" height="3" fill="#000"/>
<rect x="579" y="278" width="1" height="3" fill="#000"/>
<rect x="579" y="284" width="1" height="3" fill="#000"/>
<rect x="579" y="290" width="1" height="3" fill="#000"/>
<rect x="579" y="296" width="1" height="3" fill="#000"/>
<rect x="579" y="302" width="1" height="3" fill="#000"/>
<rect x="579" y="308" width="1" height="3" fill="#000"/>
<rect x="579" y="314" width="1" height="3" fill="#000"/>
<rect x="579" y="320" width="1" height="3" fill="#000"/>
<rect x="579" y="326" width="1" height="3" fill="#000"/>
<rect x="579" y="332" width="1" height="3" fill="#000"/>
<rect x="579" y="338" width="1" height="3" fill="#000"/>
<rect x="579" y="344" width="1" height="3" fill="#000"/>
<rect x="579" y="350" width="1" height="3" fill="#000"/>
<rect x="579" y="356" width="1" height="3" fill="#000"/>
<rect x="579" y="362" width="1" height="3" fill="#000"/>
<rect x="579" y="368" width="1" height="3" fill="#000"/>
<rect x="579" y="374" width="1" height="3" fill="#000"/>
<rect x="579" y="380" width="1" height="3" fill="#000"/>
<rect x="579" y="392" width="1" height="3" fill="#000"/>
<rect x="579" y="398" width="1" height="3" fill="#000"/>
<rect x="579" y="404" width="1" height="3" fill="#000"/>
<rect x="579" y="410" width="1" height="3" fill="#000"/>
<rect x="579" y="416" width="1" height="3" fill="#000"/>
<rect x="579" y="422" width="1" height="3" fill="#000"/>
<rect x="579" y="428" width="1" height="3" fill="#000"/>
<rect x="579" y="434" width="1" height="3" fill="#000"/>
<rect x="579" y="440" width="1" height="3" fill="#000"/>
<rect x="579" y="446" width="1" height="3" fill="#000"/>
<rect x="579" y="452" width="1" height="3" fill="#000"/>
<rect x="579" y="458" width="1" height="3" fill="#000"/>
<rect x="579" y="464" width="1" height="3" fill="#000"/>
<rect x="579" y="470" width="1" height="3" fill="#000"/>
<rect x="579" y="476" width="1" height="3" fill="#000"/>
<rect x="579" y="482" width="1" height="3" fill="#000"/>
<rect x="579" y="488" width="1" height="3" fill="#000"/>
<rect x="579" y="494" width="1" height="3" fill="#000"/>
<rect x="579" y="500" width="1" height="3" fill="#000"/>
<rect x="579" y="506" width="1" height="3" fill="#000"/>
<rect x="579" y="512" width="1" height="3" fill="#000"/>
<rect x="579" y="518" width="1" height="3" fill="#000"/>
<rect x="579" y="524" width="1" height="3" fill="#000"/>
<rect x="579" y="530" width="1" height="3" fill="#000"/>
<rect x="579" y="536" width="1" height="3" fill="#000"/>
<rect x="579" y="542" width="1" height="3" fill="#000"/>
<rect x="579" y="548" width="1" height="3" fill="#000"/>
<rect x="579" y="554" width="1" height="3" fill="#000"/>
<rect x="579" y="560" width="1" height="3" fill="#000"/>
<rect x="579" y="566" width="1" height="3" fill="#000"/>
<rect x="579" y="572" width="1" height="3" fill="#000"/>
<rect x="579" y="578" width="1" height="1" fill="#000"/>
<rect x="675" y="3" width="1" height="2" fill="#000"/>
<rect x="675" y="8" width="1" height="3" fill="#000"/>
<rect x="675" y="14" width="1" height="3" fill="#000"/>
<rect x="675" y="20" width="1" height="3" fill="#000"/>
<rect x="675" y="26" width="1" height="3" fill="#000"/>
<rect x="675" y="32" width="1" height="3" fill="#000"/>
<rect x="675" y="38" width="1" height="3" fill="#000"/>
<rect x="675" y="44" width="1" height="3" fill="#000"/>
<rect x="675" y="50" width="1" height="3" fill="#000"/>
<rect x="675" y="56" width="1" height="3" fill="#000"/>
<rect x="675" y="62" width="1" height="3" fill="#000"/>
<rect x="675" y="68" width="1" height="3" fill="#000"/>
<rect x="675" y="74" width="1" height="3" fill="#000"/>
<rect x="675" y="80" width="1" height="3" fill="#000"/>
<rect x="675" y="86" width="1" height="3" fill="#000"/>
<rect x="675" y="92" width="1" height="3" fill="#000"/>
<rect x="675" y="98" width="1" height="3" fill="#000"/>
<rect x="675" y="104" width="1" height="3" fill="#000"/>
<rect x="675" y="110" width="1" height="3" fill="#000"/>
<rect x="675" y="116" width="1" height="3" fill="#000"/>
<rect x="675" y="122" width="1" height="3" fill="#000"/>
<rect x="675" y="128" width="1" height="3" fill="#000"/>
<rect x="675" y="134" width="1" height="3" fill="#000"/>
<rect x="675" y="140" width="1" height="3" fill="#000"/>
<rect x="675" y="146" width="1" height="3" fill="#000"/>
<rect x="675" y="152" width="1" height="3" fill="#000"/>
<rect x="675" y="158" width="1" height="3" fill="#000"/>
<rect x="675" y="164" width="1" height="3" fill="#000"/>
<rect x="675" y="170" width="1" height="3" fill="#000"/>
<rect x="675" y="176" width="1" height="3" fill="#000"/>
<rect x="675" y="182" width="1" height="3" fill="#000"/>
<rect x="675" y="188" width="1" height="3" fill="#000"/>
<rect x="675" y="194" width="1" height="3" fill="#000"/>
<rect x="675" y="200" width="1" height="3" fill="#000"/>
<rect x="675" y="206" width="1" height="3" fill="#000"/>
<rect x="675" y="212" width="1" height="3" fill="#000"/>
<rect x="675" y="218" width="1" height="3" fill="#000"/>
<rect x="675" y="224" width="1" height="3" fill="#000"/>
<rect x="675" y="230" width="1" height="3" fill="#000"/>
<rect x="675" y="236" width="1" height="3" fill="#000"/>
<rect x="675" y="242" width="1" height="3" fill="#000"/>
<rect x="675" y="248" width="1" height="3" fill="#000"/>
<rect x="675" y="254" width="1" height="3" fill="#000"/>
<rect x="675" y="260" width="1" height="3" fill="#000"/>
<rect x="675" y="266" width="1" height="3" fill="#000"/>
<rect x="675" y="272" width="1" height="3" fill="#000"/>
<rect x="675" y="278" width="1" height="3" fill="#000"/>
<rect x="675" y="284" width="1" height="3" fill="#000"/>
<rect x="675" y="290" width="1" height="3" fill="#000"/>
<rect x="675" y="296" width="1" height="3" fill="#000"/>
<rect x="675" y="302" width="1" height="3" fill="#000"/>
<rect x="675" y="308" width="1" height="3" fill="#000"/>
<rect x="675" y="314" width="1" height="3" fill="#000"/>
<rect x="675" y="320" width="1" height="3" fill="#000"/>
<rect x="675" y="326" width="1" height="3" fill="#000"/>
<rect x="675" y="332" width="1" height="3" fill="#000"/>
<rect x="675" y="338" width="1" height="3" fill="#000"/>
<rect x="675" y="344" width="1" height="3" fill="#000"/>
<rect x="675" y="350" width="1" height="3" fill="#000"/>
<rect x="675" y="356" width="1" height="3" fill="#000"/>
<rect x="675" y="362" width="1" height="3" fill="#000"/>
<rect x="675" y="368" width="1" height="3" fill="#000"/>
<rect x="675" y="374" width="1" height="3" fill="#000"/>
<rect x="675" y="380" width="1" height="3" fill="#000"/>
<rect x="675" y="392" width="1" height="3" fill="#000"/>
<rect x="675" y="398" width="1" height="3" fill="#000"/>
<rect x="675" y="404" width="1" height="3" fill="#000"/>
<rect x="675" y="410" width="1" height="3" fill="#000"/>
<rect x="675" y="416" width="1" height="3" fill="#000"/>
<rect x="675" y="422" width="1" height="3" fill="#000"/>
<rect x="675" y="428" width="1" height="3" fill="#000"/>
<rect x="675" y="434" width="1" height="3" fill="#000"/>
<rect x="675" y="440" width="1" height="3" fill="#000"/>
<rect x="675" y="446" width="1" height="3" fill="#000"/>
<rect x="675" y="452" width="1" height="3" fill="#000"/>
<rect x="675" y="458" width="1" height="3" fill="#000"/>
<rect x="675" y="464" width="1" height="3" fill="#000"/>
<rect x="675" y="470" width="1" height="3" fill="#000"/>
<rect x="675" y="476" width="1" height="3" fill="#000"/>
<rect x="675" y="482" width="1" height="3" fill="#000"/>
<rect x="675" y="488" width="1" height="3" fill="#000"/>
<rect x="675" y="494" width="1" height="3" fill="#000"/>
<rect x="675" y="500" width="1" height="3" fill="#000"/>
<rect x="675" y="506" width="1" height="3" fill="#000"/>
<rect x="675" y="512" width="1" height="3" fill="#000"/>
<rect x="675" y="518" width="1" height="3" fill="#000"/>
<rect x="675" y="524" width="1" height="3" fill="#000"/>
<rect x="675" y="530" width="1" height="3" fill="#000"/>
<rect x="675" y="536" width="1" height="3" fill="#000"/>
<rect x="675" y="542" width="1" height="3" fill="#000"/>
<rect x="675" y="548" width="1" height="3" fill="#000"/>
<rect x="675" y="554" width="1" height="3" fill="#000"/>
<rect x="675" y="560" width="1" height="3" fill="#000"/>
<rect x="675" y="566" width="1" height="3" fill="#000"/>
<rect x="675" y="572" width="1" height="3" fill="#000"/>
<rect x="675" y="578" width="1" height="1" fill="#000"/>
<rect x="3" y="22" width="754" height="1" fill="#ff0000"/>
<rect x="3" y="119" width="754" height="1" fill="#ff0000"/>
<rect x="3" y="207" width="754" height="1" fill="#ff0000"/>
<rect x="3" y="376" width="754" height="1" fill="#ff0000"/>
<rect x="3" y="269" width="754" height="1" fill="#006400"/>
<rect x="3" y="360" width="754" height="1" fill="#006400"/>
<rect x="3" y="254" width="754" height="1" fill="#c0c0c0"/>
<rect x="279" y="49" width="5" height="1" fill="#0000ff"/>
<rect x="441" y="18" width="5" height="1" fill="#0000ff"/>
<rect x="243" y="56" width="5" height="1" fill="#0000ff"/>
<rect x="201" y="64" width="5" height="1" fill="#0000ff"/>
<rect x="498" y="7" width="5" height="1" fill="#0000ff"/>
<rect x="50" y="93" width="6" height="1" fill="#0000ff"/>
<rect x="409" y="24" width="6" height="1" fill="#0000ff"/>
<rect x="373" y="31" width="5" height="1" fill="#0000ff"/>
<rect x="258" y="53" width="6" height="1" fill="#0000ff"/>
<rect x="61" y="91" width="5" height="1" fill="#0000ff"/>
<rect x="503" y="6" width="5" height="1" fill="#0000ff"/>
<rect x="389" y="28" width="5" height="1" fill="#0000ff"/>
<rect x="191" y="66" width="5" height="1" fill="#0000ff"/>
<rect x="352" y="35" width="5" height="1" fill="#0000ff"/>
<rect x="154" y="73" width="6" height="1" fill="#0000ff"/>
<rect x="461" y="14" width="6" height="1" fill="#0000ff"/>
<rect x="519" y="3" width="5" height="1" fill="#0000ff"/>
<rect x="482" y="10" width="5" height="1" fill="#0000ff"/>
<rect x="284" y="48" width="6" height="1" fill="#0000ff"/>
<rect x="87" y="86" width="5" height="1" fill="#0000ff"/>
<rect x="170" y="70" width="5" height="1" fill="#0000ff"/>
<rect x="394" y="27" width="5" height="1" fill="#0000ff"/>
<rect x="9" y="101" width="5" height="1" fill="#0000ff"/>
<rect x="415" y="23" width="5" height="1" fill="#0000ff"/>
<rect x="264" y="52" width="5" height="1" fill="#0000ff"/>
<rect x="66" y="90" width="5" height="1" fill="#0000ff"/>
<rect x="435" y="19" width="6" height="1" fill="#0000ff"/>
<rect x="238" y="57" width="5" height="1" fill="#0000ff"/>
<rect x="175" y="69" width="5" height="1" fill="#0000ff"/>
<rect x="123" y="79" width="5" height="1" fill="#0000ff"/>
<rect x="196" y="65" width="5" height="1" fill="#0000ff"/>
<rect x="368" y="32" width="5" height="1" fill="#0000ff"/>
<rect x="253" y="54" width="5" height="1" fill="#0000ff"/>
<rect x="217" y="61" width="5" height="1" fill="#0000ff"/>
<rect x="19" y="99" width="5" height="1" fill="#0000ff"/>
<rect x="326" y="40" width="5" height="1" fill="#0000ff"/>
<rect x="128" y="78" width="6" height="1" fill="#0000ff"/>
<rect x="92" y="85" width="5" height="1" fill="#0000ff"/>
<rect x="76" y="88" width="6" height="1" fill="#0000ff"/>
<rect x="149" y="74" width="5" height="1" fill="#0000ff"/>
<rect x="383" y="29" width="6" height="1" fill="#0000ff"/>
<rect x="35" y="96" width="5" height="1" fill="#0000ff"/>
<rect x="456" y="15" width="5" height="1" fill="#0000ff"/>
<rect x="222" y="60" width="5" height="1" fill="#0000ff"/>
<rect x="108" y="82" width="5" height="1" fill="#0000ff"/>
<rect x="321" y="41" width="5" height="1" fill="#0000ff"/>
<rect x="206" y="63" width="6" height="1" fill="#0000ff"/>
<rect x="477" y="11" width="5" height="1" fill="#0000ff"/>
<rect x="451" y="16" width="5" height="1" fill="#0000ff"/>
<rect x="40" y="95" width="5" height="1" fill="#0000ff"/>
<rect x="336" y="38" width="6" height="1" fill="#0000ff"/>
<rect x="3" y="102" width="6" height="1" fill="#0000ff"/>
<rect x="300" y="45" width="5" height="1" fill="#0000ff"/>
<rect x="102" y="83" width="6" height="1" fill="#0000ff"/>
<rect x="134" y="77" width="5" height="1" fill="#0000ff"/>
<rect x="430" y="20" width="5" height="1" fill="#0000ff"/>
<rect x="232" y="58" width="6" height="1" fill="#0000ff"/>
<rect x="118" y="80" width="5" height="1" fill="#0000ff"/>
<rect x="363" y="33" width="5" height="1" fill="#0000ff"/>
<rect x="248" y="55" width="5" height="1" fill="#0000ff"/>
<rect x="212" y="62" width="5" height="1" fill="#0000ff"/>
<rect x="14" y="100" width="5" height="1" fill="#0000ff"/>
<rect x="493" y="8" width="5" height="1" fill="#0000ff"/>
<rect x="378" y="30" width="5" height="1" fill="#0000ff"/>
<rect x="342" y="37" width="5" height="1" fill="#0000ff"/>
<rect x="144" y="75" width="5" height="1" fill="#0000ff"/>
<rect x="30" y="97" width="5" height="1" fill="#0000ff"/>
<rect x="472" y="12" width="5" height="1" fill="#0000ff"/>
<rect x="274" y="50" width="5" height="1" fill="#0000ff"/>
<rect x="160" y="72" width="5" height="1" fill="#0000ff"/>
<rect x="347" y="36" width="5" height="1" fill="#0000ff"/>
<rect x="404" y="25" width="5" height="1" fill="#0000ff"/>
<rect x="56" y="92" width="5" height="1" fill="#0000ff"/>
<rect x="425" y="21" width="5" height="1" fill="#0000ff"/>
<rect x="186" y="67" width="5" height="1" fill="#0000ff"/>
<rect x="316" y="42" width="5" height="1" fill="#0000ff"/>
<rect x="82" y="87" width="5" height="1" fill="#0000ff"/>
<rect x="165" y="71" width="5" height="1" fill="#0000ff"/>
<rect x="487" y="9" width="6" height="1" fill="#0000ff"/>
<rect x="508" y="5" width="5" height="1" fill="#0000ff"/>
<rect x="97" y="84" width="5" height="1" fill="#0000ff"/>
<rect x="467" y="13" width="5" height="1" fill="#0000ff"/>
<rect x="269" y="51" width="5" height="1" fill="#0000ff"/>
<rect x="290" y="47" width="5" height="1" fill="#0000ff"/>
<rect x="399" y="26" width="5" height="1" fill="#0000ff"/>
<rect x="420" y="22" width="5" height="1" fill="#0000ff"/>
<rect x="71" y="89" width="5" height="1" fill="#0000ff"/>
<rect x="295" y="46" width="5" height="1" fill="#0000ff"/>
<rect x="180" y="68" width="6" height="1" fill="#0000ff"/>
<rect x="310" y="43" width="6" height="1" fill="#0000ff"/>
<rect x="113" y="81" width="5" height="1" fill="#0000ff"/>
<rect x="331" y="39" width="5" height="1" fill="#0000ff"/>
<rect x="513" y="4" width="6" height="1" fill="#0000ff"/>
<rect x="24" y="98" width="6" height="1" fill="#0000ff"/>
<rect x="45" y="94" width="5" height="1" fill="#0000ff"/>
<rect x="139" y="76" width="5" height="1" fill="#0000ff"/>
<rect x="446" y="17" width="5" height="1" fill="#0000ff"/>
<rect x="305" y="44" width="5" height="1" fill="#0000ff"/>
<rect x="227" y="59" width="5" height="1" fill="#0000ff"/>
<rect x="357" y="34" width="6" height="1" fill="#0000ff"/>
<rect x="753" y="167" width="3" height="1" fill="#0000ff"/>
<rect x="555" y="205" width="3" height="1" fill="#0000ff"/>
<rect x="405" y="234" width="3" height="1" fill="#0000ff"/>
<rect x="207" y="272" width="3" height="1" fill="#0000ff"/>
<rect x="460" y="223" width="2" height="1" fill="#0000ff"/>
<rect x="465" y="223" width="1" height="1" fill="#0000ff"/>
<rect x="651" y="187" width="2" height="1" fill="#0000ff"/>
<rect x="533" y="209" width="1" height="1" fill="#0000ff"/>
<rect x="537" y="209" width="1" height="1" fill="#0000ff"/>
<rect x="28" y="306" width="2" height="1" fill="#0000ff"/>
<rect x="33" y="306" width="1" height="1" fill="#0000ff"/>
<rect x="747" y="168" width="3" height="1" fill="#0000ff"/>
<rect x="705" y="176" width="3" height="1" fill="#0000ff"/>
<rect x="597" y="197" width="3" height="1" fill="#0000ff"/>
<rect x="101" y="292" width="1" height="1" fill="#0000ff"/>
<rect x="105" y="292" width="2" height="1" fill="#0000ff"/>
<rect x="185" y="276" width="1" height="1" fill="#0000ff"/>
<rect x="189" y="276" width="1" height="1" fill="#0000ff"/>
<rect x="357" y="243" width="3" height="1" fill="#0000ff"/>
<rect x="243" y="265" width="3" height="1" fill="#0000ff"/>
<rect x="159" y="281" width="3" height="1" fill="#0000ff"/>
<rect x="9" y="310" width="3" height="1" fill="#0000ff"/>
<rect x="335" y="247" width="1" height="1" fill="#0000ff"/>
<rect x="339" y="247" width="2" height="1" fill="#0000ff"/>
<rect x="447" y="226" width="3" height="1" fill="#0000ff"/>
<rect x="658" y="185" width="2" height="1" fill="#0000ff"/>
<rect x="249" y="264" width="3" height="1" fill="#0000ff"/>
<rect x="544" y="207" width="2" height="1" fill="#0000ff"/>
<rect x="15" y="309" width="3" height="1" fill="#0000ff"/>
<rect x="309" y="252" width="3" height="1" fill="#0000ff"/>
<rect x="70" y="298" width="2" height="1" fill="#0000ff"/>
<rect x="639" y="189" width="3" height="1" fill="#0000ff"/>
<rect x="441" y="227" width="3" height="1" fill="#0000ff"/>
<rect x="694" y="178" width="2" height="1" fill="#0000ff"/>
<rect x="699" y="178" width="1" height="1" fill="#0000ff"/>
<rect x="201" y="273" width="3" height="1" fill="#0000ff"/>
<rect x="165" y="280" width="3" height="1" fill="#0000ff"/>
<rect x="51" y="302" width="3" height="1" fill="#0000ff"/>
<rect x="645" y="188" width="3" height="1" fill="#0000ff"/>
<rect x="297" y="255" width="2" height="1" fill="#0000ff"/>
<rect x="591" y="198" width="3" height="1" fill="#0000ff"/>
<rect x="531" y="210" width="2" height="1" fill="#0000ff"/>
<rect x="700" y="177" width="2" height="1" fill="#0000ff"/>
<rect x="57" y="301" width="3" height="1" fill="#0000ff"/>
<rect x="351" y="244" width="3" height="1" fill="#0000ff"/>
<rect x="153" y="282" width="3" height="1" fill="#0000ff"/>
<rect x="112" y="290" width="2" height="1" fill="#0000ff"/>
<rect x="3" y="311" width="3" height="1" fill="#0000ff"/>
<rect x="681" y="181" width="3" height="1" fill="#0000ff"/>
<rect x="483" y="219" width="3" height="1" fill="#0000ff"/>
<rect x="135" y="286" width="3" height="1" fill="#0000ff"/>
<rect x="502" y="215" width="2" height="1" fill="#0000ff"/>
<rect x="304" y="253" width="2" height="1" fill="#0000ff"/>
<rect x="575" y="201" width="1" height="1" fill="#0000ff"/>
<rect x="579" y="201" width="1" height="1" fill="#0000ff"/>
<rect x="741" y="169" width="3" height="1" fill="#0000ff"/>
<rect x="285" y="257" width="3" height="1" fill="#0000ff"/>
<rect x="393" y="236" width="3" height="1" fill="#0000ff"/>
<rect x="195" y="274" width="3" height="1" fill="#0000ff"/>
<rect x="45" y="303" width="3" height="1" fill="#0000ff"/>
<rect x="525" y="211" width="3" height="1" fill="#0000ff"/>
<rect x="489" y="218" width="3" height="1" fill="#0000ff"/>
<rect x="291" y="256" width="3" height="1" fill="#0000ff"/>
<rect x="585" y="199" width="3" height="1" fill="#0000ff"/>
<rect x="177" y="278" width="2" height="1" fill="#0000ff"/>
<rect x="387" y="237" width="3" height="1" fill="#0000ff"/>
<rect x="346" y="245" width="2" height="1" fill="#0000ff"/>
<rect x="616" y="193" width="2" height="1" fill="#0000ff"/>
<rect x="621" y="193" width="1" height="1" fill="#0000ff"/>
<rect x="179" y="277" width="1" height="1" fill="#0000ff"/>
<rect x="183" y="277" width="2" height="1" fill="#0000ff"/>
<rect x="477" y="220" width="3" height="1" fill="#0000ff"/>
<rect x="723" y="173" width="3" height="1" fill="#0000ff"/>
<rect x="87" y="295" width="3" height="1" fill="#0000ff"/>
<rect x="299" y="254" width="1" height="1" fill="#0000ff"/>
<rect x="303" y="254" width="1" height="1" fill="#0000ff"/>
<rect x="573" y="202" width="2" height="1" fill="#0000ff"/>
<rect x="333" y="248" width="2" height="1" fill="#0000ff"/>
<rect x="627" y="191" width="3" height="1" fill="#0000ff"/>
<rect x="429" y="229" width="3" height="1" fill="#0000ff"/>
<rect x="538" y="208" width="2" height="1" fill="#0000ff"/>
<rect x="543" y="208" width="1" height="1" fill="#0000ff"/>
<rect x="81" y="296" width="3" height="1" fill="#0000ff"/>
<rect x="633" y="190" width="3" height="1" fill="#0000ff"/>
<rect x="717" y="174" width="3" height="1" fill="#0000ff"/>
<rect x="519" y="212" width="3" height="1" fill="#0000ff"/>
<rect x="689" y="179" width="1" height="1" fill="#0000ff"/>
<rect x="693" y="179" width="1" height="1" fill="#0000ff"/>
<rect x="231" y="267" width="3" height="1" fill="#0000ff"/>
<rect x="171" y="279" width="3" height="1" fill="#0000ff"/>
<rect x="341" y="246" width="1" height="1" fill="#0000ff"/>
<rect x="345" y="246" width="1" height="1" fill="#0000ff"/>
<rect x="413" y="232" width="1" height="1" fill="#0000ff"/>
<rect x="417" y="232" width="2" height="1" fill="#0000ff"/>
<rect x="711" y="175" width="3" height="1" fill="#0000ff"/>
<rect x="669" y="183" width="3" height="1" fill="#0000ff"/>
<rect x="471" y="221" width="3" height="1" fill="#0000ff"/>
<rect x="65" y="299" width="1" height="1" fill="#0000ff"/>
<rect x="69" y="299" width="1" height="1" fill="#0000ff"/>
<rect x="435" y="228" width="3" height="1" fill="#0000ff"/>
<rect x="237" y="266" width="3" height="1" fill="#0000ff"/>
<rect x="123" y="288" width="3" height="1" fill="#0000ff"/>
<rect x="567" y="203" width="3" height="1" fill="#0000ff"/>
<rect x="675" y="182" width="3" height="1" fill="#0000ff"/>
<rect x="219" y="270" width="2" height="1" fill="#0000ff"/>
<rect x="327" y="249" width="3" height="1" fill="#0000ff"/>
<rect x="622" y="192" width="2" height="1" fill="#0000ff"/>
<rect x="129" y="287" width="3" height="1" fill="#0000ff"/>
<rect x="382" y="238" width="2" height="1" fill="#0000ff"/>
<rect x="455" y="224" width="1" height="1" fill="#0000ff"/>
<rect x="459" y="224" width="1" height="1" fill="#0000ff"/>
<rect x="34" y="305" width="2" height="1" fill="#0000ff"/>
<rect x="107" y="291" width="1" height="1" fill="#0000ff"/>
<rect x="111" y="291" width="1" height="1" fill="#0000ff"/>
<rect x="279" y="258" width="3" height="1" fill="#0000ff"/>
<rect x="257" y="262" width="1" height="1" fill="#0000ff"/>
<rect x="261" y="262" width="2" height="1" fill="#0000ff"/>
<rect x="369" y="241" width="3" height="1" fill="#0000ff"/>
<rect x="580" y="200" width="2" height="1" fill="#0000ff"/>
<rect x="663" y="184" width="3" height="1" fill="#0000ff"/>
<rect x="466" y="222" width="2" height="1" fill="#0000ff"/>
<rect x="117" y="289" width="3" height="1" fill="#0000ff"/>
<rect x="561" y="204" width="3" height="1" fill="#0000ff"/>
<rect x="363" y="242" width="3" height="1" fill="#0000ff"/>
<rect x="213" y="271" width="3" height="1" fill="#0000ff"/>
<rect x="268" y="260" width="2" height="1" fill="#0000ff"/>
<rect x="453" y="225" width="2" height="1" fill="#0000ff"/>
<rect x="273" y="259" width="3" height="1" fill="#0000ff"/>
<rect x="603" y="196" width="3" height="1" fill="#0000ff"/>
<rect x="255" y="263" width="2" height="1" fill="#0000ff"/>
<rect x="424" y="230" width="2" height="1" fill="#0000ff"/>
<rect x="226" y="268" width="2" height="1" fill="#0000ff"/>
<rect x="497" y="216" width="1" height="1" fill="#0000ff"/>
<rect x="501" y="216" width="1" height="1" fill="#0000ff"/>
<rect x="75" y="297" width="3" height="1" fill="#0000ff"/>
<rect x="315" y="251" width="3" height="1" fill="#0000ff"/>
<rect x="611" y="194" width="1" height="1" fill="#0000ff"/>
<rect x="615" y="194" width="1" height="1" fill="#0000ff"/>
<rect x="687" y="180" width="2" height="1" fill="#0000ff"/>
<rect x="23" y="307" width="1" height="1" fill="#0000ff"/>
<rect x="27" y="307" width="1" height="1" fill="#0000ff"/>
<rect x="507" y="214" width="3" height="1" fill="#0000ff"/>
<rect x="99" y="293" width="2" height="1" fill="#0000ff"/>
<rect x="399" y="235" width="3" height="1" fill="#0000ff"/>
<rect x="653" y="186" width="1" height="1" fill="#0000ff"/>
<rect x="657" y="186" width="1" height="1" fill="#0000ff"/>
<rect x="729" y="172" width="2" height="1" fill="#0000ff"/>
<rect x="221" y="269" width="1" height="1" fill="#0000ff"/>
<rect x="225" y="269" width="1" height="1" fill="#0000ff"/>
<rect x="495" y="217" width="2" height="1" fill="#0000ff"/>
<rect x="377" y="239" width="1" height="1" fill="#0000ff"/>
<rect x="381" y="239" width="1" height="1" fill="#0000ff"/>
<rect x="549" y="206" width="3" height="1" fill="#0000ff"/>
<rect x="736" y="170" width="2" height="1" fill="#0000ff"/>
<rect x="93" y="294" width="3" height="1" fill="#0000ff"/>
<rect x="263" y="261" width="1" height="1" fill="#0000ff"/>
<rect x="267" y="261" width="1" height="1" fill="#0000ff"/>
<rect x="419" y="231" width="1" height="1" fill="#0000ff"/>
<rect x="423" y="231" width="1" height="1" fill="#0000ff"/>
<rect x="141" y="285" width="2" height="1" fill="#0000ff"/>
<rect x="148" y="283" width="2" height="1" fill="#0000ff"/>
<rect x="39" y="304" width="3" height="1" fill="#0000ff"/>
<rect x="190" y="275" width="2" height="1" fill="#0000ff"/>
<rect x="375" y="240" width="2" height="1" fill="#0000ff"/>
<rect x="143" y="284" width="1" height="1" fill="#0000ff"/>
<rect x="147" y="284" width="1" height="1" fill="#0000ff"/>
<rect x="731" y="171" width="1" height="1" fill="#0000ff"/>
<rect x="735" y="171" width="1" height="1" fill="#0000ff"/>
<rect x="513" y="213" width="3" height="1" fill="#0000ff"/>
<rect x="609" y="195" width="2" height="1" fill="#0000ff"/>
<rect x="21" y="308" width="2" height="1" fill="#0000ff"/>
<rect x="411" y="233" width="2" height="1" fill="#0000ff"/>
<rect x="321" y="250" width="3" height="1" fill="#0000ff"/>
<rect x="63" y="300" width="2" height="1" fill="#0000ff"/>
<rect x="714" y="383" width="5" height="1" fill="#0000ff"/>
<rect x="725" y="381" width="5" height="1" fill="#0000ff"/>
<rect x="719" y="382" width="6" height="1" fill="#0000ff"/>
<rect x="730" y="380" width="5" height="1" fill="#0000ff"/>
<rect x="735" y="379" width="5" height="1" fill="#0000ff"/>
<rect x="740" y="378" width="5" height="1" fill="#0000ff"/>
<rect x="704" y="385" width="5" height="1" fill="#0000ff"/>
<rect x="745" y="377" width="6" height="1" fill="#0000ff"/>
<rect x="751" y="376" width="5" height="1" fill="#0000ff"/>
<rect x="756" y="375" width="1" height="1" fill="#0000ff"/>
<rect x="709" y="384" width="5" height="1" fill="#0000ff"/>
<text x="696.1" y="267" fill="#006400" stroke="#006400" stroke-width="0.15" font-size="9.8" text-anchor="start" textLength="59.3" lengthAdjust="spacingAndGlyphs">61.8 (1.40607)</text>
<text x="696.1" y="358" fill="#006400" stroke="#006400" stroke-width="0.15" font-size="9.8" text-anchor="start" textLength="59.3" lengthAdjust="spacingAndGlyphs">50.0 (1.39937)</text>
<rect x="3" y="314" width="1" height="9" fill="#1e90ff"/>
<rect x="3" y="317" width="2" height="4" fill="#1e90ff"/>
<rect x="7" y="315" width="1" height="9" fill="#ff0000"/>
<rect x="6" y="318" width="3" height="3" fill="#ff0000"/>
<rect x="11" y="314" width="1" height="8" fill="#ff0000"/>
<rect x="10" y="320" width="3" height="1" fill="#ff0000"/>
<rect x="15" y="307" width="1" height="20" fill="#1e90ff"/>
<rect x="14" y="308" width="3" height="12" fill="#1e90ff"/>
<rect x="19" y="287" width="1" height="23" fill="#1e90ff"/>
<rect x="18" y="297" width="3" height="11" fill="#1e90ff"/>
<rect x="23" y="295" width="1" height="12" fill="#ff0000"/>
<rect x="22" y="297" width="3" height="7" fill="#ff0000"/>
<rect x="27" y="299" width="1" height="9" fill="#1e90ff"/>
<rect x="26" y="301" width="3" height="3" fill="#1e90ff"/>
<rect x="31" y="301" width="1" height="19" fill="#ff0000"/>
<rect x="30" y="301" width="3" height="17" fill="#ff0000"/>
<rect x="35" y="313" width="1" height="12" fill="#1e90ff"/>
<rect x="34" y="315" width="3" height="3" fill="#1e90ff"/>
<rect x="39" y="287" width="1" height="30" fill="#1e90ff"/>
<rect x="38" y="293" width="3" height="23" fill="#1e90ff"/>
<rect x="43" y="272" width="1" height="34" fill="#1e90ff"/>
<rect x="42" y="283" width="3" height="11" fill="#1e90ff"/>
<rect x="47" y="265" width="1" height="25" fill="#1e90ff"/>
<rect x="46" y="265" width="3" height="19" fill="#1e90ff"/>
<rect x="51" y="263" width="1" height="66" fill="#ff0000"/>
<rect x="50" y="265" width="3" height="49" fill="#ff0000"/>
<rect x="55" y="305" width="1" height="21" fill="#ff0000"/>
<rect x="54" y="314" width="3" height="10" fill="#ff0000"/>
<rect x="59" y="324" width="1" height="23" fill="#ff0000"/>
<rect x="58" y="324" width="3" height="15" fill="#ff0000"/>
<rect x="63" y="336" width="1" height="37" fill="#ff0000"/>
<rect x="62" y="338" width="3" height="29" fill="#ff0000"/>
<rect x="67" y="344" width="1" height="27" fill="#ff0000"/>
<rect x="66" y="366" width="3" height="2" fill="#ff0000"/>
<rect x="71" y="338" width="1" height="39" fill="#1e90ff"/>
<rect x="70" y="338" width="3" height="30" fill="#1e90ff"/>
<rect x="75" y="326" width="1" height="23" fill="#ff0000"/>
<rect x="74" y="338" width="3" height="1" fill="#ff0000"/>
<rect x="79" y="325" width="1" height="50" fill="#ff0000"/>
<rect x="78" y="338" width="3" height="27" fill="#ff0000"/>
<rect x="83" y="337" width="1" height="28" fill="#1e90ff"/>
<rect x="82" y="342" width="3" height="23" fill="#1e90ff"/>
<rect x="87" y="338" width="1" height="18" fill="#ff0000"/>
<rect x="86" y="342" width="3" height="12" fill="#ff0000"/>
<rect x="91" y="340" width="1" height="20" fill="#ff0000"/>
<rect x="90" y="353" width="3" height="4" fill="#ff0000"/>
<rect x="95" y="350" width="1" height="14" fill="#1e90ff"/>
<rect x="94" y="355" width="3" height="2" fill="#1e90ff"/>
<rect x="99" y="351" width="1" height="7" fill="#1e90ff"/>
<rect x="98" y="352" width="3" height="4" fill="#1e90ff"/>
<rect x="103" y="348" width="1" height="8" fill="#1e90ff"/>
<rect x="102" y="351" width="3" height="2" fill="#1e90ff"/>
<rect x="107" y="346" width="1" height="8" fill="#1e90ff"/>
<rect x="106" y="347" width="3" height="5" fill="#1e90ff"/>
<rect x="111" y="335" width="1" height="16" fill="#1e90ff"/>
<rect x="110" y="339" width="3" height="9" fill="#1e90ff"/>
<rect x="115" y="334" width="1" height="16" fill="#ff0000"/>
<rect x="114" y="339" width="3" height="3" fill="#ff0000"/>
<rect x="119" y="340" width="1" height="11" fill="#ff0000"/>
<rect x="118" y="341" width="3" height="3" fill="#ff0000"/>
<rect x="123" y="329" width="1" height="15" fill="#1e90ff"/>
<rect x="122" y="335" width="3" height="9" fill="#1e90ff"/>
<rect x="127" y="328" width="1" height="11" fill="#1e90ff"/>
<rect x="126" y="332" width="3" height="4" fill="#1e90ff"/>
<rect x="131" y="330" width="1" height="12" fill="#ff0000"/>
<rect x="130" y="332" width="3" height="10" fill="#ff0000"/>
<rect x="135" y="334" width="1" height="15" fill="#1e90ff"/>
<rect x="134" y="337" width="3" height="5" fill="#1e90ff"/>
<rect x="139" y="310" width="1" height="28" fill="#1e90ff"/>
<rect x="138" y="317" width="3" height="20" fill="#1e90ff"/>
<rect x="143" y="294" width="1" height="29" fill="#1e90ff"/>
<rect x="142" y="309" width="3" height="9" fill="#1e90ff"/>
<rect x="147" y="251" width="1" height="78" fill="#1e90ff"/>
<rect x="146" y="273" width="3" height="37" fill="#1e90ff"/>
<rect x="151" y="251" width="1" height="27" fill="#ff0000"/>
<rect x="150" y="273" width="3" height="3" fill="#ff0000"/>
<rect x="155" y="263" width="1" height="32" fill="#ff0000"/>
<rect x="154" y="275" width="3" height="14" fill="#ff0000"/>
<rect x="159" y="271" width="1" height="26" fill="#1e90ff"/>
<rect x="158" y="278" width="3" height="11" fill="#1e90ff"/>
<rect x="163" y="253" width="1" height="34" fill="#1e90ff"/>
<rect x="162" y="261" width="3" height="17" fill="#1e90ff"/>
<rect x="167" y="246" width="1" height="26" fill="#1e90ff"/>
<rect x="166" y="252" width="3" height="9" fill="#1e90ff"/>
<rect x="171" y="251" width="1" height="19" fill="#ff0000"/>
<rect x="170" y="253" width="3" height="13" fill="#ff0000"/>
<rect x="175" y="258" width="1" height="18" fill="#1e90ff"/>
<rect x="174" y="260" width="3" height="6" fill="#1e90ff"/>
<rect x="179" y="238" width="1" height="32" fill="#1e90ff"/>
<rect x="178" y="247" width="3" height="13" fill="#1e90ff"/>
<rect x="183" y="171" width="1" height="104" fill="#1e90ff"/>
<rect x="182" y="176" width="3" height="72" fill="#1e90ff"/>
<rect x="187" y="149" width="1" height="30" fill="#1e90ff"/>
<rect x="186" y="152" width="3" height="25" fill="#1e90ff"/>
<rect x="191" y="149" width="1" height="15" fill="#ff0000"/>
<rect x="190" y="152" width="3" height="11" fill="#ff0000"/>
<rect x="195" y="157" width="1" height="16" fill="#ff0000"/>
<rect x="194" y="163" width="3" height="4" fill="#ff0000"/>
<rect x="199" y="161" width="1" height="8" fill="#1e90ff"/>
<rect x="198" y="165" width="3" height="2" fill="#1e90ff"/>
<rect x="203" y="157" width="1" height="10" fill="#1e90ff"/>
<rect x="202" y="159" width="3" height="7" fill="#1e90ff"/>
<rect x="207" y="122" width="1" height="40" fill="#1e90ff"/>
<rect x="206" y="123" width="3" height="37" fill="#1e90ff"/>
<rect x="211" y="122" width="1" height="13" fill="#ff0000"/>
<rect x="210" y="124" width="3" height="7" fill="#ff0000"/>
<rect x="215" y="127" width="1" height="12" fill="#ff0000"/>
<rect x="214" y="130" width="3" height="7" fill="#ff0000"/>
<rect x="219" y="130" width="1" height="14" fill="#1e90ff"/>
<rect x="218" y="133" width="3" height="4" fill="#1e90ff"/>
<rect x="223" y="130" width="1" height="12" fill="#ff0000"/>
<rect x="222" y="133" width="3" height="9" fill="#ff0000"/>
<rect x="227" y="138" width="1" height="20" fill="#ff0000"/>
<rect x="226" y="142" width="3" height="16" fill="#ff0000"/>
<rect x="231" y="147" width="1" height="16" fill="#1e90ff"/>
<rect x="230" y="152" width="3" height="6" fill="#1e90ff"/>
<rect x="235" y="111" width="1" height="42" fill="#1e90ff"/>
<rect x="234" y="130" width="3" height="23" fill="#1e90ff"/>
<rect x="239" y="115" width="1" height="30" fill="#1e90ff"/>
<rect x="238" y="125" width="3" height="6" fill="#1e90ff"/>
<rect x="243" y="108" width="1" height="56" fill="#ff0000"/>
<rect x="242" y="125" width="3" height="36" fill="#ff0000"/>
<rect x="247" y="148" width="1" height="25" fill="#1e90ff"/>
<rect x="246" y="150" width="3" height="8" fill="#1e90ff"/>
<rect x="251" y="119" width="1" height="38" fill="#1e90ff"/>
<rect x="250" y="119" width="3" height="32" fill="#1e90ff"/>
<rect x="255" y="57" width="1" height="124" fill="#ff0000"/>
<rect x="254" y="118" width="3" height="60" fill="#ff0000"/>
<rect x="259" y="170" width="1" height="37" fill="#ff0000"/>
<rect x="258" y="177" width="3" height="11" fill="#ff0000"/>
<rect x="263" y="176" width="1" height="51" fill="#ff0000"/>
<rect x="262" y="187" width="3" height="28" fill="#ff0000"/>
<rect x="267" y="208" width="1" height="43" fill="#ff0000"/>
<rect x="266" y="214" width="3" height="6" fill="#ff0000"/>
<rect x="271" y="195" width="1" height="48" fill="#1e90ff"/>
<rect x="270" y="211" width="3" height="10" fill="#1e90ff"/>
<rect x="275" y="193" width="1" height="34" fill="#ff0000"/>
<rect x="274" y="211" width="3" height="2" fill="#ff0000"/>
<rect x="279" y="192" width="1" height="25" fill="#1e90ff"/>
<rect x="278" y="203" width="3" height="10" fill="#1e90ff"/>
<rect x="283" y="193" width="1" height="18" fill="#1e90ff"/>
<rect x="282" y="201" width="3" height="3" fill="#1e90ff"/>
<rect x="287" y="201" width="1" height="23" fill="#ff0000"/>
<rect x="286" y="202" width="3" height="22" fill="#ff0000"/>
<rect x="291" y="207" width="1" height="17" fill="#1e90ff"/>
<rect x="290" y="217" width="3" height="6" fill="#1e90ff"/>
<rect x="295" y="198" width="1" height="20" fill="#1e90ff"/>
<rect x="294" y="199" width="3" height="18" fill="#1e90ff"/>
<rect x="299" y="197" width="1" height="15" fill="#ff0000"/>
<rect x="298" y="199" width="3" height="2" fill="#ff0000"/>
<rect x="303" y="186" width="1" height="26" fill="#1e90ff"/>
<rect x="302" y="187" width="3" height="14" fill="#1e90ff"/>
<rect x="307" y="186" width="1" height="17" fill="#ff0000"/>
<rect x="306" y="187" width="3" height="7" fill="#ff0000"/>
<rect x="311" y="186" width="1" height="15" fill="#ff0000"/>
<rect x="310" y="193" width="3" height="7" fill="#ff0000"/>
<rect x="315" y="189" width="1" height="17" fill="#1e90ff"/>
<rect x="314" y="193" width="3" height="8" fill="#1e90ff"/>
<rect x="319" y="191" width="1" height="7" fill="#ff0000"/>
<rect x="318" y="193" width="3" height="3" fill="#ff0000"/>
<rect x="323" y="194" width="1" height="11" fill="#ff0000"/>
<rect x="322" y="195" width="3" height="9" fill="#ff0000"/>
<rect x="327" y="181" width="1" height="23" fill="#1e90ff"/>
<rect x="326" y="195" width="3" height="8" fill="#1e90ff"/>
<rect x="331" y="187" width="1" height="35" fill="#ff0000"/>
<rect x="330" y="195" width="3" height="22" fill="#ff0000"/>
<rect x="335" y="192" width="1" height="33" fill="#1e90ff"/>
<rect x="334" y="211" width="3" height="6" fill="#1e90ff"/>
<rect x="339" y="208" width="1" height="26" fill="#ff0000"/>
<rect x="338" y="211" width="3" height="16" fill="#ff0000"/>
<rect x="343" y="213" width="1" height="25" fill="#1e90ff"/>
<rect x="342" y="214" width="3" height="13" fill="#1e90ff"/>
<rect x="347" y="186" width="1" height="30" fill="#1e90ff"/>
<rect x="346" y="192" width="3" height="22" fill="#1e90ff"/>
<rect x="351" y="172" width="1" height="20" fill="#1e90ff"/>
<rect x="350" y="172" width="3" height="20" fill="#1e90ff"/>
<rect x="355" y="146" width="1" height="27" fill="#1e90ff"/>
<rect x="354" y="151" width="3" height="22" fill="#1e90ff"/>
<rect x="359" y="120" width="1" height="31" fill="#1e90ff"/>
<rect x="358" y="133" width="3" height="18" fill="#1e90ff"/>
<rect x="363" y="129" width="1" height="36" fill="#ff0000"/>
<rect x="362" y="134" width="3" height="18" fill="#ff0000"/>
<rect x="367" y="143" width="1" height="16" fill="#ff0000"/>
<rect x="366" y="151" width="3" height="2" fill="#ff0000"/>
<rect x="371" y="140" width="1" height="20" fill="#1e90ff"/>
<rect x="370" y="147" width="3" height="6" fill="#1e90ff"/>
<rect x="375" y="146" width="1" height="19" fill="#ff0000"/>
<rect x="374" y="147" width="3" height="11" fill="#ff0000"/>
<rect x="379" y="154" width="1" height="15" fill="#ff0000"/>
<rect x="378" y="157" width="3" height="9" fill="#ff0000"/>
<rect x="383" y="164" width="1" height="14" fill="#ff0000"/>
<rect x="382" y="165" width="3" height="9" fill="#ff0000"/>
<rect x="387" y="139" width="1" height="30" fill="#1e90ff"/>
<rect x="386" y="145" width="3" height="24" fill="#1e90ff"/>
<rect x="391" y="143" width="1" height="13" fill="#ff0000"/>
<rect x="390" y="145" width="3" height="8" fill="#ff0000"/>
<rect x="395" y="134" width="1" height="23" fill="#1e90ff"/>
<rect x="394" y="135" width="3" height="18" fill="#1e90ff"/>
<rect x="399" y="131" width="1" height="11" fill="#1e90ff"/>
<rect x="398" y="132" width="3" height="5" fill="#1e90ff"/>
<rect x="403" y="129" width="1" height="8" fill="#1e90ff"/>
<rect x="402" y="132" width="3" height="1" fill="#1e90ff"/>
<rect x="407" y="120" width="1" height="13" fill="#1e90ff"/>
<rect x="406" y="129" width="3" height="4" fill="#1e90ff"/>
<rect x="411" y="125" width="1" height="12" fill="#ff0000"/>
<rect x="410" y="128" width="3" height="9" fill="#ff0000"/>
<rect x="415" y="134" width="1" height="13" fill="#ff0000"/>
<rect x="414" y="135" width="3" height="11" fill="#ff0000"/>
<rect x="419" y="126" width="1" height="16" fill="#1e90ff"/>
<rect x="418" y="132" width="3" height="10" fill="#1e90ff"/>
<rect x="423" y="89" width="1" height="52" fill="#1e90ff"/>
<rect x="422" y="95" width="3" height="39" fill="#1e90ff"/>
<rect x="427" y="83" width="1" height="28" fill="#1e90ff"/>
<rect x="426" y="88" width="3" height="8" fill="#1e90ff"/>
<rect x="431" y="50" width="1" height="39" fill="#1e90ff"/>
<rect x="430" y="60" width="3" height="29" fill="#1e90ff"/>
<rect x="435" y="42" width="1" height="26" fill="#1e90ff"/>
<rect x="434" y="50" width="3" height="11" fill="#1e90ff"/>
<rect x="439" y="35" width="1" height="25" fill="#1e90ff"/>
<rect x="438" y="46" width="3" height="5" fill="#1e90ff"/>
<rect x="443" y="42" width="1" height="48" fill="#ff0000"/>
<rect x="442" y="46" width="3" height="44" fill="#ff0000"/>
<rect x="447" y="62" width="1" height="34" fill="#1e90ff"/>
<rect x="446" y="73" width="3" height="17" fill="#1e90ff"/>
<rect x="451" y="38" width="1" height="51" fill="#1e90ff"/>
<rect x="450" y="50" width="3" height="24" fill="#1e90ff"/>
<rect x="455" y="21" width="1" height="36" fill="#1e90ff"/>
<rect x="454" y="33" width="3" height="18" fill="#1e90ff"/>
<rect x="459" y="31" width="1" height="23" fill="#ff0000"/>
<rect x="458" y="32" width="3" height="20" fill="#ff0000"/>
<rect x="463" y="37" width="1" height="15" fill="#1e90ff"/>
<rect x="462" y="42" width="3" height="10" fill="#1e90ff"/>
<rect x="467" y="34" width="1" height="14" fill="#ff0000"/>
<rect x="466" y="42" width="3" height="6" fill="#ff0000"/>
<rect x="471" y="37" width="1" height="13" fill="#1e90ff"/>
<rect x="470" y="43" width="3" height="5" fill="#1e90ff"/>
<rect x="475" y="38" width="1" height="9" fill="#1e90ff"/>
<rect x="474" y="40" width="3" height="4" fill="#1e90ff"/>
<rect x="479" y="40" width="1" height="9" fill="#ff0000"/>
<rect x="478" y="41" width="3" height="3" fill="#ff0000"/>
<rect x="483" y="35" width="1" height="11" fill="#1e90ff"/>
<rect x="482" y="36" width="3" height="8" fill="#1e90ff"/>
<rect x="487" y="29" width="1" height="11" fill="#1e90ff"/>
<rect x="486" y="30" width="3" height="7" fill="#1e90ff"/>
<rect x="491" y="29" width="1" height="16" fill="#ff0000"/>
<rect x="490" y="30" width="3" height="10" fill="#ff0000"/>
<rect x="495" y="34" width="1" height="17" fill="#ff0000"/>
<rect x="494" y="39" width="3" height="11" fill="#ff0000"/>
<rect x="499" y="39" width="1" height="13" fill="#1e90ff"/>
<rect x="498" y="43" width="3" height="7" fill="#1e90ff"/>
<rect x="503" y="31" width="1" height="13" fill="#1e90ff"/>
<rect x="502" y="35" width="3" height="9" fill="#1e90ff"/>
<rect x="507" y="32" width="1" height="10" fill="#ff0000"/>
<rect x="506" y="35" width="3" height="3" fill="#ff0000"/>
<rect x="511" y="37" width="1" height="11" fill="#ff0000"/>
<rect x="510" y="38" width="3" height="2" fill="#ff0000"/>
<rect x="515" y="22" width="1" height="28" fill="#1e90ff"/>
<rect x="514" y="33" width="3" height="7" fill="#1e90ff"/>
<rect x="519" y="23" width="1" height="84" fill="#ff0000"/>
<rect x="518" y="33" width="3" height="73" fill="#ff0000"/>
<rect x="523" y="103" width="1" height="50" fill="#ff0000"/>
<rect x="522" y="105" width="3" height="48" fill="#ff0000"/>
<rect x="527" y="140" width="1" height="44" fill="#ff0000"/>
<rect x="526" y="152" width="3" height="30" fill="#ff0000"/>
<rect x="531" y="167" width="1" height="40" fill="#ff0000"/>
<rect x="530" y="181" width="3" height="21" fill="#ff0000"/>
<rect x="535" y="195" width="1" height="37" fill="#ff0000"/>
<rect x="534" y="201" width="3" height="29" fill="#ff0000"/>
<rect x="539" y="194" width="1" height="69" fill="#1e90ff"/>
<rect x="538" y="196" width="3" height="34" fill="#1e90ff"/>
<rect x="543" y="149" width="1" height="53" fill="#1e90ff"/>
<rect x="542" y="151" width="3" height="46" fill="#1e90ff"/>
<rect x="547" y="134" width="1" height="37" fill="#ff0000"/>
<rect x="546" y="151" width="3" height="8" fill="#ff0000"/>
<rect x="551" y="131" width="1" height="40" fill="#1e90ff"/>
<rect x="550" y="140" width="3" height="19" fill="#1e90ff"/>
<rect x="555" y="118" width="1" height="29" fill="#1e90ff"/>
<rect x="554" y="124" width="3" height="17" fill="#1e90ff"/>
<rect x="559" y="118" width="1" height="23" fill="#ff0000"/>
<rect x="558" y="124" width="3" height="11" fill="#ff0000"/>
<rect x="563" y="131" width="1" height="16" fill="#ff0000"/>
<rect x="562" y="134" width="3" height="13" fill="#ff0000"/>
<rect x="567" y="140" width="1" height="13" fill="#ff0000"/>
<rect x="566" y="146" width="3" height="2" fill="#ff0000"/>
<rect x="571" y="134" width="1" height="13" fill="#1e90ff"/>
<rect x="570" y="138" width="3" height="9" fill="#1e90ff"/>
<rect x="575" y="130" width="1" height="17" fill="#1e90ff"/>
<rect x="574" y="134" width="3" height="7" fill="#1e90ff"/>
<rect x="579" y="128" width="1" height="8" fill="#1e90ff"/>
<rect x="578" y="128" width="3" height="7" fill="#1e90ff"/>
<rect x="583" y="102" width="1" height="30" fill="#1e90ff"/>
<rect x="582" y="114" width="3" height="16" fill="#1e90ff"/>
<rect x="587" y="105" width="1" height="14" fill="#1e90ff"/>
<rect x="586" y="113" width="3" height="2" fill="#1e90ff"/>
<rect x="591" y="103" width="1" height="15" fill="#1e90ff"/>
<rect x="590" y="107" width="3" height="6" fill="#1e90ff"/>
<rect x="595" y="96" width="1" height="15" fill="#1e90ff"/>
<rect x="594" y="100" width="3" height="7" fill="#1e90ff"/>
<rect x="599" y="95" width="1" height="11" fill="#1e90ff"/>
<rect x="598" y="96" width="3" height="5" fill="#1e90ff"/>
<rect x="603" y="92" width="1" height="15" fill="#1e90ff"/>
<rect x="602" y="95" width="3" height="2" fill="#1e90ff"/>
<rect x="607" y="82" width="1" height="19" fill="#1e90ff"/>
<rect x="606" y="92" width="3" height="4" fill="#1e90ff"/>
<rect x="611" y="83" width="1" height="42" fill="#ff0000"/>
<rect x="610" y="92" width="3" height="21" fill="#ff0000"/>
<rect x="615" y="105" width="1" height="67" fill="#ff0000"/>
<rect x="614" y="112" width="3" height="11" fill="#ff0000"/>
<rect x="619" y="106" width="1" height="30" fill="#ff0000"/>
<rect x="618" y="122" width="3" height="14" fill="#ff0000"/>
<rect x="623" y="109" width="1" height="42" fill="#ff0000"/>
<rect x="622" y="135" width="3" height="9" fill="#ff0000"/>
<rect x="627" y="138" width="1" height="23" fill="#ff0000"/>
<rect x="626" y="143" width="3" height="17" fill="#ff0000"/>
<rect x="631" y="129" width="1" height="33" fill="#1e90ff"/>
<rect x="630" y="149" width="3" height="11" fill="#1e90ff"/>
<rect x="635" y="138" width="1" height="39" fill="#ff0000"/>
<rect x="634" y="149" width="3" height="14" fill="#ff0000"/>
<rect x="639" y="160" width="1" height="68" fill="#ff0000"/>
<rect x="638" y="162" width="3" height="52" fill="#ff0000"/>
<rect x="643" y="201" width="1" height="26" fill="#ff0000"/>
<rect x="642" y="214" width="3" height="7" fill="#ff0000"/>
<rect x="647" y="193" width="1" height="28" fill="#1e90ff"/>
<rect x="646" y="207" width="3" height="14" fill="#1e90ff"/>
<rect x="651" y="200" width="1" height="17" fill="#ff0000"/>
<rect x="650" y="207" width="3" height="5" fill="#ff0000"/>
<rect x="655" y="204" width="1" height="39" fill="#ff0000"/>
<rect x="654" y="210" width="3" height="24" fill="#ff0000"/>
<rect x="659" y="229" width="1" height="27" fill="#ff0000"/>
<rect x="658" y="233" width="3" height="5" fill="#ff0000"/>
<rect x="663" y="234" width="1" height="24" fill="#ff0000"/>
<rect x="662" y="237" width="3" height="11" fill="#ff0000"/>
<rect x="667" y="240" width="1" height="12" fill="#ff0000"/>
<rect x="666" y="247" width="3" height="3" fill="#ff0000"/>
<rect x="671" y="242" width="1" height="9" fill="#1e90ff"/>
<rect x="670" y="244" width="3" height="6" fill="#1e90ff"/>
<rect x="675" y="243" width="1" height="8" fill="#ff0000"/>
<rect x="674" y="244" width="3" height="4" fill="#ff0000"/>
<rect x="679" y="240" width="1" height="11" fill="#1e90ff"/>
<rect x="678" y="242" width="3" height="6" fill="#1e90ff"/>
<rect x="683" y="240" width="1" height="32" fill="#ff0000"/>
<rect x="682" y="242" width="3" height="26" fill="#ff0000"/>
<rect x="687" y="250" width="1" height="18" fill="#1e90ff"/>
<rect x="686" y="265" width="3" height="3" fill="#1e90ff"/>
<rect x="691" y="246" width="1" height="22" fill="#1e90ff"/>
<rect x="690" y="249" width="3" height="19" fill="#1e90ff"/>
<rect x="695" y="240" width="1" height="11" fill="#1e90ff"/>
<rect x="694" y="242" width="3" height="8" fill="#1e90ff"/>
<rect x="699" y="236" width="1" height="14" fill="#ff0000"/>
<rect x="698" y="242" width="3" height="2" fill="#ff0000"/>
<rect x="703" y="222" width="1" height="23" fill="#1e90ff"/>
<rect x="702" y="231" width="3" height="13" fill="#1e90ff"/>
<rect x="707" y="231" width="1" height="55" fill="#ff0000"/>
<rect x="706" y="231" width="3" height="53" fill="#ff0000"/>
<rect x="711" y="253" width="1" height="52" fill="#ff0000"/>
<rect x="710" y="283" width="3" height="5" fill="#ff0000"/>
<rect x="715" y="272" width="1" height="34" fill="#ff0000"/>
<rect x="714" y="287" width="3" height="13" fill="#ff0000"/>
<rect x="719" y="255" width="1" height="49" fill="#1e90ff"/>
<rect x="718" y="264" width="3" height="36" fill="#1e90ff"/>
<rect x="723" y="262" width="1" height="27" fill="#ff0000"/>
<rect x="722" y="262" width="3" height="8" fill="#ff0000"/>
<rect x="727" y="252" width="1" height="32" fill="#1e90ff"/>
<rect x="726" y="252" width="3" height="18" fill="#1e90ff"/>
<rect x="731" y="239" width="1" height="23" fill="#ff0000"/>
<rect x="730" y="252" width="3" height="2" fill="#ff0000"/>
<rect x="466" y="293" width="8" height="1" fill="#ff0000"/>
<rect x="315" y="350" width="10" height="1" fill="#ff0000"/>
<rect x="399" y="318" width="10" height="1" fill="#ff0000"/>
<rect x="720" y="209" width="13" height="1" fill="#ff0000"/>
<rect x="252" y="375" width="8" height="1" fill="#ff0000"/>
<rect x="583" y="250" width="9" height="1" fill="#ff0000"/>
<rect x="435" y="305" width="11" height="1" fill="#ff0000"/>
<rect x="283" y="362" width="9" height="1" fill="#ff0000"/>
<rect x="613" y="237" width="9" height="1" fill="#ff0000"/>
<rect x="464" y="294" width="8" height="1" fill="#ff0000"/>
<rect x="547" y="262" width="13" height="1" fill="#ff0000"/>
<rect x="397" y="319" width="9" height="1" fill="#ff0000"/>
<rect x="432" y="306" width="10" height="1" fill="#ff0000"/>
<rect x="611" y="238" width="8" height="1" fill="#ff0000"/>
<rect x="543" y="263" width="13" height="1" fill="#ff0000"/>
<rect x="514" y="271" width="9" height="1" fill="#ff0000"/>
<rect x="706" y="212" width="16" height="1" fill="#ff0000"/>
<rect x="361" y="332" width="9" height="1" fill="#ff0000"/>
<rect x="511" y="272" width="9" height="1" fill="#ff0000"/>
<rect x="388" y="322" width="10" height="1" fill="#ff0000"/>
<rect x="486" y="284" width="8" height="1" fill="#ff0000"/>
<rect x="423" y="309" width="10" height="1" fill="#ff0000"/>
<rect x="700" y="213" width="17" height="1" fill="#ff0000"/>
<rect x="357" y="334" width="8" height="1" fill="#ff0000"/>
<rect x="604" y="241" width="8" height="1" fill="#ff0000"/>
<rect x="667" y="221" width="14" height="1" fill="#ff0000"/>
<rect x="529" y="266" width="15" height="1" fill="#ff0000"/>
<rect x="574" y="253" width="10" height="1" fill="#ff0000"/>
<rect x="327" y="346" width="10" height="1" fill="#ff0000"/>
<rect x="261" y="371" width="10" height="1" fill="#ff0000"/>
<rect x="441" y="303" width="11" height="1" fill="#ff0000"/>
<rect x="692" y="215" width="15" height="1" fill="#ff0000"/>
<rect x="324" y="347" width="10" height="1" fill="#ff0000"/>
<rect x="662" y="222" width="15" height="1" fill="#ff0000"/>
<rect x="504" y="275" width="9" height="1" fill="#ff0000"/>
<rect x="569" y="255" width="10" height="1" fill="#ff0000"/>
<rect x="232" y="384" width="8" height="1" fill="#ff0000"/>
<rect x="687" y="216" width="15" height="1" fill="#ff0000"/>
<rect x="350" y="337" width="8" height="1" fill="#ff0000"/>
<rect x="653" y="224" width="15" height="1" fill="#ff0000"/>
<rect x="318" y="349" width="10" height="1" fill="#ff0000"/>
<rect x="716" y="210" width="15" height="1" fill="#ff0000"/>
<rect x="412" y="313" width="10" height="1" fill="#ff0000"/>
<rect x="231" y="385" width="7" height="1" fill="#ff0000"/>
<rect x="348" y="338" width="8" height="1" fill="#ff0000"/>
<rect x="379" y="325" width="10" height="1" fill="#ff0000"/>
<rect x="679" y="218" width="14" height="1" fill="#ff0000"/>
<rect x="649" y="225" width="15" height="1" fill="#ff0000"/>
<rect x="675" y="219" width="14" height="1" fill="#ff0000"/>
<rect x="641" y="227" width="14" height="1" fill="#ff0000"/>
<rect x="711" y="211" width="15" height="1" fill="#ff0000"/>
<rect x="577" y="252" width="10" height="1" fill="#ff0000"/>
<rect x="609" y="239" width="8" height="1" fill="#ff0000"/>
<rect x="306" y="353" width="11" height="1" fill="#ff0000"/>
<rect x="637" y="228" width="13" height="1" fill="#ff0000"/>
<rect x="245" y="378" width="8" height="1" fill="#ff0000"/>
<rect x="484" y="285" width="8" height="1" fill="#ff0000"/>
<rect x="276" y="365" width="8" height="1" fill="#ff0000"/>
<rect x="606" y="240" width="8" height="1" fill="#ff0000"/>
<rect x="457" y="297" width="8" height="1" fill="#ff0000"/>
<rect x="243" y="379" width="8" height="1" fill="#ff0000"/>
<rect x="631" y="230" width="11" height="1" fill="#ff0000"/>
<rect x="479" y="287" width="9" height="1" fill="#ff0000"/>
<rect x="602" y="242" width="8" height="1" fill="#ff0000"/>
<rect x="453" y="299" width="8" height="1" fill="#ff0000"/>
<rect x="628" y="231" width="10" height="1" fill="#ff0000"/>
<rect x="507" y="274" width="8" height="1" fill="#ff0000"/>
<rect x="418" y="311" width="10" height="1" fill="#ff0000"/>
<rect x="600" y="243" width="8" height="1" fill="#ff0000"/>
<rect x="296" y="357" width="9" height="1" fill="#ff0000"/>
<rect x="415" y="312" width="10" height="1" fill="#ff0000"/>
<rect x="535" y="265" width="13" height="1" fill="#ff0000"/>
<rect x="500" y="277" width="8" height="1" fill="#ff0000"/>
<rect x="623" y="233" width="10" height="1" fill="#ff0000"/>
<rect x="343" y="340" width="9" height="1" fill="#ff0000"/>
<rect x="309" y="352" width="11" height="1" fill="#ff0000"/>
<rect x="340" y="341" width="9" height="1" fill="#ff0000"/>
<rect x="274" y="366" width="8" height="1" fill="#ff0000"/>
<rect x="371" y="328" width="10" height="1" fill="#ff0000"/>
<rect x="481" y="286" width="9" height="1" fill="#ff0000"/>
<rect x="335" y="343" width="9" height="1" fill="#ff0000"/>
<rect x="366" y="330" width="9" height="1" fill="#ff0000"/>
<rect x="301" y="355" width="9" height="1" fill="#ff0000"/>
<rect x="238" y="381" width="9" height="1" fill="#ff0000"/>
<rect x="298" y="356" width="10" height="1" fill="#ff0000"/>
<rect x="474" y="289" width="9" height="1" fill="#ff0000"/>
<rect x="502" y="276" width="9" height="1" fill="#ff0000"/>
<rect x="236" y="382" width="9" height="1" fill="#ff0000"/>
<rect x="293" y="358" width="10" height="1" fill="#ff0000"/>
<rect x="472" y="290" width="8" height="1" fill="#ff0000"/>
<rect x="407" y="315" width="9" height="1" fill="#ff0000"/>
<rect x="444" y="302" width="10" height="1" fill="#ff0000"/>
<rect x="373" y="327" width="11" height="1" fill="#ff0000"/>
<rect x="620" y="234" width="10" height="1" fill="#ff0000"/>
<rect x="558" y="259" width="11" height="1" fill="#ff0000"/>
<rect x="345" y="339" width="9" height="1" fill="#ff0000"/>
<rect x="593" y="246" width="9" height="1" fill="#ff0000"/>
<rect x="524" y="267" width="17" height="1" fill="#ff0000"/>
<rect x="615" y="236" width="9" height="1" fill="#ff0000"/>
<rect x="522" y="268" width="14" height="1" fill="#ff0000"/>
<rect x="494" y="280" width="8" height="1" fill="#ff0000"/>
<rect x="402" y="317" width="9" height="1" fill="#ff0000"/>
<rect x="338" y="342" width="9" height="1" fill="#ff0000"/>
<rect x="363" y="331" width="10" height="1" fill="#ff0000"/>
<rect x="551" y="261" width="13" height="1" fill="#ff0000"/>
<rect x="241" y="380" width="8" height="1" fill="#ff0000"/>
<rect x="539" y="264" width="13" height="1" fill="#ff0000"/>
<rect x="391" y="321" width="10" height="1" fill="#ff0000"/>
<rect x="359" y="333" width="9" height="1" fill="#ff0000"/>
<rect x="234" y="383" width="8" height="1" fill="#ff0000"/>
<rect x="291" y="359" width="9" height="1" fill="#ff0000"/>
<rect x="468" y="292" width="8" height="1" fill="#ff0000"/>
<rect x="286" y="361" width="9" height="1" fill="#ff0000"/>
<rect x="588" y="248" width="9" height="1" fill="#ff0000"/>
<rect x="516" y="270" width="10" height="1" fill="#ff0000"/>
<rect x="254" y="374" width="9" height="1" fill="#ff0000"/>
<rect x="585" y="249" width="9" height="1" fill="#ff0000"/>
<rect x="490" y="282" width="8" height="1" fill="#ff0000"/>
<rect x="580" y="251" width="9" height="1" fill="#ff0000"/>
<rect x="509" y="273" width="9" height="1" fill="#ff0000"/>
<rect x="696" y="214" width="16" height="1" fill="#ff0000"/>
<rect x="725" y="208" width="8" height="1" fill="#ff0000"/>
<rect x="352" y="336" width="9" height="1" fill="#ff0000"/>
<rect x="385" y="323" width="10" height="1" fill="#ff0000"/>
<rect x="658" y="223" width="14" height="1" fill="#ff0000"/>
<rect x="683" y="217" width="14" height="1" fill="#ff0000"/>
<rect x="382" y="324" width="10" height="1" fill="#ff0000"/>
<rect x="409" y="314" width="10" height="1" fill="#ff0000"/>
<rect x="376" y="326" width="11" height="1" fill="#ff0000"/>
<rect x="645" y="226" width="14" height="1" fill="#ff0000"/>
<rect x="462" y="295" width="8" height="1" fill="#ff0000"/>
<rect x="247" y="377" width="9" height="1" fill="#ff0000"/>
<rect x="429" y="307" width="10" height="1" fill="#ff0000"/>
<rect x="278" y="364" width="9" height="1" fill="#ff0000"/>
<rect x="671" y="220" width="14" height="1" fill="#ff0000"/>
<rect x="420" y="310" width="11" height="1" fill="#ff0000"/>
<rect x="272" y="367" width="8" height="1" fill="#ff0000"/>
<rect x="572" y="254" width="9" height="1" fill="#ff0000"/>
<rect x="312" y="351" width="11" height="1" fill="#ff0000"/>
<rect x="562" y="258" width="9" height="1" fill="#ff0000"/>
<rect x="554" y="260" width="12" height="1" fill="#ff0000"/>
<rect x="368" y="329" width="10" height="1" fill="#ff0000"/>
<rect x="303" y="354" width="10" height="1" fill="#ff0000"/>
<rect x="455" y="298" width="8" height="1" fill="#ff0000"/>
<rect x="625" y="232" width="11" height="1" fill="#ff0000"/>
<rect x="598" y="244" width="8" height="1" fill="#ff0000"/>
<rect x="264" y="370" width="9" height="1" fill="#ff0000"/>
<rect x="618" y="235" width="9" height="1" fill="#ff0000"/>
<rect x="438" y="304" width="11" height="1" fill="#ff0000"/>
<rect x="330" y="345" width="9" height="1" fill="#ff0000"/>
<rect x="470" y="291" width="8" height="1" fill="#ff0000"/>
<rect x="321" y="348" width="10" height="1" fill="#ff0000"/>
<rect x="355" y="335" width="8" height="1" fill="#ff0000"/>
<rect x="288" y="360" width="10" height="1" fill="#ff0000"/>
<rect x="590" y="247" width="10" height="1" fill="#ff0000"/>
<rect x="519" y="269" width="11" height="1" fill="#ff0000"/>
<rect x="256" y="373" width="10" height="1" fill="#ff0000"/>
<rect x="492" y="281" width="8" height="1" fill="#ff0000"/>
<rect x="332" y="344" width="10" height="1" fill="#ff0000"/>
<rect x="730" y="207" width="3" height="1" fill="#ff0000"/>
<rect x="250" y="376" width="8" height="1" fill="#ff0000"/>
<rect x="281" y="363" width="9" height="1" fill="#ff0000"/>
<rect x="634" y="229" width="12" height="1" fill="#ff0000"/>
<rect x="567" y="256" width="9" height="1" fill="#ff0000"/>
<rect x="404" y="316" width="9" height="1" fill="#ff0000"/>
<rect x="451" y="300" width="8" height="1" fill="#ff0000"/>
<rect x="267" y="369" width="9" height="1" fill="#ff0000"/>
<rect x="448" y="301" width="9" height="1" fill="#ff0000"/>
<rect x="476" y="288" width="9" height="1" fill="#ff0000"/>
<rect x="498" y="278" width="8" height="1" fill="#ff0000"/>
<rect x="259" y="372" width="9" height="1" fill="#ff0000"/>
<rect x="496" y="279" width="8" height="1" fill="#ff0000"/>
<rect x="488" y="283" width="8" height="1" fill="#ff0000"/>
<rect x="459" y="296" width="8" height="1" fill="#ff0000"/>
<rect x="426" y="308" width="10" height="1" fill="#ff0000"/>
<rect x="269" y="368" width="9" height="1" fill="#ff0000"/>
<rect x="595" y="245" width="9" height="1" fill="#ff0000"/>
<rect x="394" y="320" width="10" height="1" fill="#ff0000"/>
<rect x="564" y="257" width="10" height="1" fill="#ff0000"/>
<rect x="3" y="443" width="2" height="54" fill="#696969"/>
<rect x="6" y="449" width="3" height="48" fill="#696969"/>
<rect x="10" y="453" width="3" height="44" fill="#696969"/>
<rect x="14" y="454" width="3" height="43" fill="#696969"/>
<rect x="18" y="452" width="3" height="45" fill="#696969"/>
<rect x="22" y="453" width="3" height="44" fill="#696969"/>
<rect x="26" y="454" width="3" height="43" fill="#696969"/>
<rect x="30" y="460" width="3" height="37" fill="#696969"/>
<rect x="34" y="464" width="3" height="33" fill="#696969"/>
<rect x="38" y="461" width="3" height="36" fill="#696969"/>
<rect x="42" y="457" width="3" height="40" fill="#696969"/>
<rect x="46" y="451" width="3" height="46" fill="#696969"/>
<rect x="50" y="461" width="3" height="36" fill="#696969"/>
<rect x="54" y="470" width="3" height="27" fill="#696969"/>
<rect x="58" y="480" width="3" height="17" fill="#696969"/>
<rect x="62" y="495" width="3" height="2" fill="#696969"/>
<rect x="66" y="497" width="3" height="8" fill="#696969"/>
<rect x="70" y="497" width="3" height="5" fill="#696969"/>
<rect x="74" y="497" width="3" height="4" fill="#696969"/>
<rect x="78" y="497" width="3" height="10" fill="#696969"/>
<rect x="82" y="497" width="3" height="8" fill="#696969"/>
<rect x="86" y="497" width="3" height="9" fill="#696969"/>
<rect x="90" y="497" width="3" height="11" fill="#696969"/>
<rect x="94" y="497" width="3" height="11" fill="#696969"/>
<rect x="98" y="497" width="3" height="11" fill="#696969"/>
<rect x="102" y="497" width="3" height="10" fill="#696969"/>
<rect x="106" y="497" width="3" height="8" fill="#696969"/>
<rect x="110" y="497" width="3" height="5" fill="#696969"/>
<rect x="114" y="497" width="3" height="3" fill="#696969"/>
<rect x="118" y="497" width="3" height="3" fill="#696969"/>
<rect x="122" y="496" width="3" height="1" fill="#696969"/>
<rect x="126" y="494" width="3" height="3" fill="#696969"/>
<rect x="130" y="495" width="3" height="2" fill="#696969"/>
<rect x="134" y="494" width="3" height="3" fill="#696969"/>
<rect x="138" y="489" width="3" height="8" fill="#696969"/>
<rect x="142" y="483" width="3" height="14" fill="#696969"/>
<rect x="146" y="471" width="3" height="26" fill="#696969"/>
<rect x="150" y="464" width="3" height="33" fill="#696969"/>
<rect x="154" y="463" width="3" height="34" fill="#696969"/>
<rect x="158" y="461" width="3" height="36" fill="#696969"/>
<rect x="162" y="456" width="3" height="41" fill="#696969"/>
<rect x="166" y="451" width="3" height="46" fill="#696969"/>
<rect x="170" y="453" width="3" height="44" fill="#696969"/>
<rect x="174" y="453" width="3" height="44" fill="#696969"/>
<rect x="178" y="450" width="3" height="47" fill="#696969"/>
<rect x="182" y="431" width="3" height="66" fill="#696969"/>
<rect x="186" y="414" width="3" height="83" fill="#696969"/>
<rect x="190" y="407" width="3" height="90" fill="#696969"/>
<rect x="194" y="406" width="3" height="91" fill="#696969"/>
<rect x="198" y="406" width="3" height="91" fill="#696969"/>
<rect x="202" y="407" width="3" height="90" fill="#696969"/>
<rect x="206" y="399" width="3" height="98" fill="#696969"/>
<rect x="210" y="398" width="3" height="99" fill="#696969"/>
<rect x="214" y="401" width="3" height="96" fill="#696969"/>
<rect x="218" y="404" width="3" height="93" fill="#696969"/>
<rect x="222" y="409" width="3" height="88" fill="#696969"/>
<rect x="226" y="419" width="3" height="78" fill="#696969"/>
<rect x="230" y="425" width="3" height="72" fill="#696969"/>
<rect x="234" y="424" width="3" height="73" fill="#696969"/>
<rect x="238" y="424" width="3" height="73" fill="#696969"/>
<rect x="242" y="435" width="3" height="62" fill="#696969"/>
<rect x="246" y="440" width="3" height="57" fill="#696969"/>
<rect x="250" y="436" width="3" height="61" fill="#696969"/>
<rect x="254" y="450" width="3" height="47" fill="#696969"/>
<rect x="258" y="462" width="3" height="35" fill="#696969"/>
<rect x="262" y="478" width="3" height="19" fill="#696969"/>
<rect x="266" y="489" width="3" height="8" fill="#696969"/>
<rect x="270" y="495" width="3" height="2" fill="#696969"/>
<rect x="274" y="497" width="3" height="2" fill="#696969"/>
<rect x="278" y="497" width="3" height="2" fill="#696969"/>
<rect x="282" y="497" width="3" height="2" fill="#696969"/>
<rect x="286" y="497" width="3" height="7" fill="#696969"/>
<rect x="290" y="497" width="3" height="9" fill="#696969"/>
<rect x="294" y="497" width="3" height="5" fill="#696969"/>
<rect x="298" y="497" width="3" height="3" fill="#696969"/>
<rect x="302" y="494" width="3" height="3" fill="#696969"/>
<rect x="306" y="492" width="3" height="5" fill="#696969"/>
<rect x="310" y="493" width="3" height="4" fill="#696969"/>
<rect x="314" y="492" width="3" height="5" fill="#696969"/>
<rect x="318" y="492" width="3" height="5" fill="#696969"/>
<rect x="322" y="494" width="3" height="3" fill="#696969"/>
<rect x="326" y="493" width="3" height="4" fill="#696969"/>
<rect x="330" y="497" width="3" height="3" fill="#696969"/>
<rect x="334" y="497" width="3" height="5" fill="#696969"/>
<rect x="338" y="497" width="3" height="10" fill="#696969"/>
<rect x="342" y="497" width="3" height="10" fill="#696969"/>
<rect x="346" y="497" width="3" height="3" fill="#696969"/>
<rect x="350" y="490" width="3" height="7" fill="#696969"/>
<rect x="354" y="479" width="3" height="18" fill="#696969"/>
<rect x="358" y="468" width="3" height="29" fill="#696969"/>
<rect x="362" y="466" width="3" height="31" fill="#696969"/>
<rect x="366" y="466" width="3" height="31" fill="#696969"/>
<rect x="370" y="465" width="3" height="32" fill="#696969"/>
<rect x="374" y="467" width="3" height="30" fill="#696969"/>
<rect x="378" y="472" width="3" height="25" fill="#696969"/>
<rect x="382" y="477" width="3" height="20" fill="#696969"/>
<rect x="386" y="473" width="3" height="24" fill="#696969"/>
<rect x="390" y="473" width="3" height="24" fill="#696969"/>
<rect x="394" y="469" width="3" height="28" fill="#696969"/>
<rect x="398" y="466" width="3" height="31" fill="#696969"/>
<rect x="402" y="465" width="3" height="32" fill="#696969"/>
<rect x="406" y="464" width="3" height="33" fill="#696969"/>
<rect x="410" y="467" width="3" height="30" fill="#696969"/>
<rect x="414" y="470" width="3" height="27" fill="#696969"/>
<rect x="418" y="470" width="3" height="27" fill="#696969"/>
<rect x="422" y="461" width="3" height="36" fill="#696969"/>
<rect x="426" y="453" width="3" height="44" fill="#696969"/>
<rect x="430" y="442" width="3" height="55" fill="#696969"/>
<rect x="434" y="434" width="3" height="63" fill="#696969"/>
<rect x="438" y="428" width="3" height="69" fill="#696969"/>
<rect x="442" y="438" width="3" height="59" fill="#696969"/>
<rect x="446" y="441" width="3" height="56" fill="#696969"/>
<rect x="450" y="438" width="3" height="59" fill="#696969"/>
<rect x="454" y="432" width="3" height="65" fill="#696969"/>
<rect x="458" y="435" width="3" height="62" fill="#696969"/>
<rect x="462" y="435" width="3" height="62" fill="#696969"/>
<rect x="466" y="438" width="3" height="59" fill="#696969"/>
<rect x="470" y="440" width="3" height="57" fill="#696969"/>
<rect x="474" y="441" width="3" height="56" fill="#696969"/>
<rect x="478" y="444" width="3" height="53" fill="#696969"/>
<rect x="482" y="445" width="3" height="52" fill="#696969"/>
<rect x="486" y="445" width="3" height="52" fill="#696969"/>
<rect x="490" y="448" width="3" height="49" fill="#696969"/>
<rect x="494" y="454" width="3" height="43" fill="#696969"/>
<rect x="498" y="457" width="3" height="40" fill="#696969"/>
<rect x="502" y="457" width="3" height="40" fill="#696969"/>
<rect x="506" y="459" width="3" height="38" fill="#696969"/>
<rect x="510" y="461" width="3" height="36" fill="#696969"/>
<rect x="514" y="461" width="3" height="36" fill="#696969"/>
<rect x="518" y="481" width="3" height="16" fill="#696969"/>
<rect x="522" y="497" width="3" height="11" fill="#696969"/>
<rect x="526" y="497" width="3" height="34" fill="#696969"/>
<rect x="530" y="497" width="3" height="54" fill="#696969"/>
<rect x="534" y="497" width="3" height="72" fill="#696969"/>
<rect x="538" y="497" width="3" height="74" fill="#696969"/>
<rect x="542" y="497" width="3" height="61" fill="#696969"/>
<rect x="546" y="497" width="3" height="55" fill="#696969"/>
<rect x="550" y="497" width="3" height="44" fill="#696969"/>
<rect x="554" y="497" width="3" height="33" fill="#696969"/>
<rect x="558" y="497" width="3" height="27" fill="#696969"/>
<rect x="562" y="497" width="3" height="27" fill="#696969"/>
<rect x="566" y="497" width="3" height="26" fill="#696969"/>
<rect x="570" y="497" width="3" height="23" fill="#696969"/>
<rect x="574" y="497" width="3" height="20" fill="#696969"/>
<rect x="578" y="497" width="3" height="16" fill="#696969"/>
<rect x="582" y="497" width="3" height="9" fill="#696969"/>
<rect x="586" y="497" width="3" height="4" fill="#696969"/>
<rect x="590" y="496" width="3" height="1" fill="#696969"/>
<rect x="594" y="491" width="3" height="6" fill="#696969"/>
<rect x="598" y="487" width="3" height="10" fill="#696969"/>
<rect x="602" y="485" width="3" height="12" fill="#696969"/>
<rect x="606" y="483" width="3" height="14" fill="#696969"/>
<rect x="610" y="488" width="3" height="9" fill="#696969"/>
<rect x="614" y="492" width="3" height="5" fill="#696969"/>
<rect x="618" y="497" width="3" height="3" fill="#696969"/>
<rect x="622" y="497" width="3" height="10" fill="#696969"/>
<rect x="626" y="497" width="3" height="18" fill="#696969"/>
<rect x="630" y="497" width="3" height="20" fill="#696969"/>
<rect x="634" y="497" width="3" height="25" fill="#696969"/>
<rect x="638" y="497" width="3" height="41" fill="#696969"/>
<rect x="642" y="497" width="3" height="52" fill="#696969"/>
<rect x="646" y="497" width="3" height="54" fill="#696969"/>
<rect x="650" y="497" width="3" height="56" fill="#696969"/>
<rect x="654" y="497" width="3" height="62" fill="#696969"/>
<rect x="658" y="497" width="3" height="65" fill="#696969"/>
<rect x="662" y="497" width="3" height="69" fill="#696969"/>
<rect x="666" y="497" width="3" height="70" fill="#696969"/>
<rect x="670" y="497" width="3" height="69" fill="#696969"/>
<rect x="674" y="497" width="3" height="67" fill="#696969"/>
<rect x="678" y="497" width="3" height="64" fill="#696969"/>
<rect x="682" y="497" width="3" height="66" fill="#696969"/>
<rect x="686" y="497" width="3" height="66" fill="#696969"/>
<rect x="690" y="497" width="3" height="62" fill="#696969"/>
<rect x="694" y="497" width="3" height="55" fill="#696969"/>
<rect x="698" y="497" width="3" height="50" fill="#696969"/>
<rect x="702" y="497" width="3" height="43" fill="#696969"/>
<rect x="706" y="497" width="3" height="52" fill="#696969"/>
<rect x="710" y="497" width="3" height="57" fill="#696969"/>
<rect x="714" y="497" width="3" height="63" fill="#696969"/>
<rect x="718" y="497" width="3" height="55" fill="#696969"/>
<rect x="722" y="497" width="3" height="52" fill="#696969"/>
<rect x="726" y="497" width="3" height="44" fill="#696969"/>
<rect x="730" y="497" width="3" height="38" fill="#696969"/>
<rect x="32" y="457" width="2" height="1" fill="#ff0000"/>
<rect x="171" y="457" width="2" height="1" fill="#ff0000"/>
<rect x="264" y="457" width="1" height="1" fill="#ff0000"/>
<rect x="508" y="457" width="1" height="1" fill="#ff0000"/>
<rect x="179" y="453" width="1" height="1" fill="#ff0000"/>
<rect x="434" y="453" width="1" height="1" fill="#ff0000"/>
<rect x="500" y="453" width="2" height="1" fill="#ff0000"/>
<rect x="541" y="549" width="1" height="1" fill="#ff0000"/>
<rect x="657" y="549" width="1" height="1" fill="#ff0000"/>
<rect x="706" y="549" width="3" height="1" fill="#ff0000"/>
<rect x="713" y="549" width="2" height="1" fill="#ff0000"/>
<rect x="726" y="549" width="1" height="1" fill="#ff0000"/>
<rect x="290" y="500" width="2" height="1" fill="#ff0000"/>
<rect x="301" y="500" width="3" height="1" fill="#ff0000"/>
<rect x="339" y="500" width="1" height="1" fill="#ff0000"/>
<rect x="349" y="500" width="3" height="1" fill="#ff0000"/>
<rect x="530" y="500" width="1" height="1" fill="#ff0000"/>
<rect x="628" y="500" width="1" height="1" fill="#ff0000"/>
<rect x="541" y="548" width="1" height="1" fill="#ff0000"/>
<rect x="556" y="548" width="1" height="1" fill="#ff0000"/>
<rect x="656" y="548" width="1" height="1" fill="#ff0000"/>
<rect x="712" y="548" width="1" height="1" fill="#ff0000"/>
<rect x="532" y="512" width="1" height="1" fill="#ff0000"/>
<rect x="635" y="512" width="1" height="1" fill="#ff0000"/>
<rect x="549" y="557" width="2" height="1" fill="#ff0000"/>
<rect x="694" y="557" width="1" height="1" fill="#ff0000"/>
<rect x="274" y="482" width="1" height="1" fill="#ff0000"/>
<rect x="364" y="482" width="1" height="1" fill="#ff0000"/>
<rect x="525" y="482" width="1" height="1" fill="#ff0000"/>
<rect x="543" y="554" width="1" height="1" fill="#ff0000"/>
<rect x="553" y="554" width="1" height="1" fill="#ff0000"/>
<rect x="660" y="554" width="1" height="1" fill="#ff0000"/>
<rect x="638" y="517" width="1" height="1" fill="#ff0000"/>
<rect x="196" y="419" width="1" height="1" fill="#ff0000"/>
<rect x="66" y="480" width="1" height="1" fill="#ff0000"/>
<rect x="273" y="480" width="1" height="1" fill="#ff0000"/>
<rect x="144" y="490" width="1" height="1" fill="#ff0000"/>
<rect x="358" y="490" width="1" height="1" fill="#ff0000"/>
<rect x="527" y="490" width="1" height="1" fill="#ff0000"/>
<rect x="606" y="490" width="1" height="1" fill="#ff0000"/>
<rect x="269" y="470" width="1" height="1" fill="#ff0000"/>
<rect x="373" y="470" width="1" height="1" fill="#ff0000"/>
<rect x="401" y="470" width="2" height="1" fill="#ff0000"/>
<rect x="520" y="470" width="1" height="1" fill="#ff0000"/>
<rect x="313" y="495" width="1" height="1" fill="#ff0000"/>
<rect x="332" y="495" width="1" height="1" fill="#ff0000"/>
<rect x="355" y="495" width="1" height="1" fill="#ff0000"/>
<rect x="529" y="495" width="1" height="1" fill="#ff0000"/>
<rect x="601" y="495" width="1" height="1" fill="#ff0000"/>
<rect x="624" y="495" width="1" height="1" fill="#ff0000"/>
<rect x="75" y="493" width="1" height="1" fill="#ff0000"/>
<rect x="139" y="493" width="1" height="1" fill="#ff0000"/>
<rect x="279" y="493" width="1" height="1" fill="#ff0000"/>
<rect x="319" y="493" width="3" height="1" fill="#ff0000"/>
<rect x="325" y="493" width="3" height="1" fill="#ff0000"/>
<rect x="623" y="493" width="1" height="1" fill="#ff0000"/>
<rect x="534" y="520" width="1" height="1" fill="#ff0000"/>
<rect x="577" y="520" width="2" height="1" fill="#ff0000"/>
<rect x="70" y="487" width="1" height="1" fill="#ff0000"/>
<rect x="276" y="487" width="1" height="1" fill="#ff0000"/>
<rect x="611" y="487" width="3" height="1" fill="#ff0000"/>
<rect x="557" y="546" width="1" height="1" fill="#ff0000"/>
<rect x="234" y="414" width="1" height="1" fill="#ff0000"/>
<rect x="156" y="472" width="1" height="1" fill="#ff0000"/>
<rect x="371" y="472" width="1" height="1" fill="#ff0000"/>
<rect x="388" y="472" width="2" height="1" fill="#ff0000"/>
<rect x="521" y="472" width="1" height="1" fill="#ff0000"/>
<rect x="62" y="469" width="1" height="1" fill="#ff0000"/>
<rect x="269" y="469" width="1" height="1" fill="#ff0000"/>
<rect x="384" y="469" width="1" height="1" fill="#ff0000"/>
<rect x="89" y="505" width="3" height="1" fill="#ff0000"/>
<rect x="108" y="505" width="2" height="1" fill="#ff0000"/>
<rect x="630" y="505" width="1" height="1" fill="#ff0000"/>
<rect x="61" y="468" width="1" height="1" fill="#ff0000"/>
<rect x="268" y="468" width="1" height="1" fill="#ff0000"/>
<rect x="382" y="468" width="2" height="1" fill="#ff0000"/>
<rect x="406" y="468" width="3" height="1" fill="#ff0000"/>
<rect x="562" y="535" width="1" height="1" fill="#ff0000"/>
<rect x="648" y="535" width="1" height="1" fill="#ff0000"/>
<rect x="44" y="459" width="3" height="1" fill="#ff0000"/>
<rect x="50" y="459" width="3" height="1" fill="#ff0000"/>
<rect x="430" y="459" width="1" height="1" fill="#ff0000"/>
<rect x="512" y="459" width="1" height="1" fill="#ff0000"/>
<rect x="95" y="506" width="3" height="1" fill="#ff0000"/>
<rect x="101" y="506" width="3" height="1" fill="#ff0000"/>
<rect x="107" y="506" width="1" height="1" fill="#ff0000"/>
<rect x="531" y="506" width="1" height="1" fill="#ff0000"/>
<rect x="631" y="506" width="1" height="1" fill="#ff0000"/>
<rect x="161" y="465" width="1" height="1" fill="#ff0000"/>
<rect x="424" y="465" width="1" height="1" fill="#ff0000"/>
<rect x="518" y="465" width="1" height="1" fill="#ff0000"/>
<rect x="120" y="501" width="2" height="1" fill="#ff0000"/>
<rect x="295" y="501" width="3" height="1" fill="#ff0000"/>
<rect x="345" y="501" width="1" height="1" fill="#ff0000"/>
<rect x="530" y="501" width="1" height="1" fill="#ff0000"/>
<rect x="595" y="501" width="1" height="1" fill="#ff0000"/>
<rect x="628" y="501" width="1" height="1" fill="#ff0000"/>
<rect x="78" y="498" width="1" height="1" fill="#ff0000"/>
<rect x="126" y="498" width="2" height="1" fill="#ff0000"/>
<rect x="307" y="498" width="1" height="1" fill="#ff0000"/>
<rect x="701" y="551" width="2" height="1" fill="#ff0000"/>
<rect x="718" y="551" width="3" height="1" fill="#ff0000"/>
<rect x="671" y="563" width="2" height="1" fill="#ff0000"/>
<rect x="682" y="563" width="3" height="1" fill="#ff0000"/>
<rect x="241" y="421" width="1" height="1" fill="#ff0000"/>
<rect x="538" y="537" width="1" height="1" fill="#ff0000"/>
<rect x="649" y="537" width="1" height="1" fill="#ff0000"/>
<rect x="69" y="485" width="1" height="1" fill="#ff0000"/>
<rect x="147" y="485" width="1" height="1" fill="#ff0000"/>
<rect x="137" y="494" width="2" height="1" fill="#ff0000"/>
<rect x="279" y="494" width="1" height="1" fill="#ff0000"/>
<rect x="314" y="494" width="2" height="1" fill="#ff0000"/>
<rect x="331" y="494" width="1" height="1" fill="#ff0000"/>
<rect x="356" y="494" width="1" height="1" fill="#ff0000"/>
<rect x="528" y="494" width="1" height="1" fill="#ff0000"/>
<rect x="624" y="494" width="1" height="1" fill="#ff0000"/>
<rect x="557" y="547" width="1" height="1" fill="#ff0000"/>
<rect x="656" y="547" width="1" height="1" fill="#ff0000"/>
<rect x="730" y="547" width="2" height="1" fill="#ff0000"/>
<rect x="271" y="476" width="1" height="1" fill="#ff0000"/>
<rect x="368" y="476" width="1" height="1" fill="#ff0000"/>
<rect x="523" y="476" width="1" height="1" fill="#ff0000"/>
<rect x="16" y="449" width="1" height="1" fill="#ff0000"/>
<rect x="182" y="449" width="1" height="1" fill="#ff0000"/>
<rect x="495" y="449" width="1" height="1" fill="#ff0000"/>
<rect x="6" y="435" width="1" height="1" fill="#ff0000"/>
<rect x="189" y="435" width="1" height="1" fill="#ff0000"/>
<rect x="464" y="435" width="3" height="1" fill="#ff0000"/>
<rect x="262" y="450" width="1" height="1" fill="#ff0000"/>
<rect x="496" y="450" width="1" height="1" fill="#ff0000"/>
<rect x="78" y="497" width="1" height="1" fill="#ff0000"/>
<rect x="284" y="497" width="2" height="1" fill="#ff0000"/>
<rect x="308" y="497" width="2" height="1" fill="#ff0000"/>
<rect x="599" y="497" width="1" height="1" fill="#ff0000"/>
<rect x="152" y="478" width="1" height="1" fill="#ff0000"/>
<rect x="367" y="478" width="1" height="1" fill="#ff0000"/>
<rect x="523" y="478" width="1" height="1" fill="#ff0000"/>
<rect x="61" y="467" width="1" height="1" fill="#ff0000"/>
<rect x="160" y="467" width="1" height="1" fill="#ff0000"/>
<rect x="376" y="467" width="3" height="1" fill="#ff0000"/>
<rect x="412" y="467" width="1" height="1" fill="#ff0000"/>
<rect x="418" y="467" width="3" height="1" fill="#ff0000"/>
<rect x="74" y="492" width="1" height="1" fill="#ff0000"/>
<rect x="278" y="492" width="1" height="1" fill="#ff0000"/>
<rect x="8" y="437" width="1" height="1" fill="#ff0000"/>
<rect x="188" y="437" width="1" height="1" fill="#ff0000"/>
<rect x="448" y="437" width="1" height="1" fill="#ff0000"/>
<rect x="470" y="437" width="3" height="1" fill="#ff0000"/>
<rect x="131" y="496" width="3" height="1" fill="#ff0000"/>
<rect x="283" y="496" width="1" height="1" fill="#ff0000"/>
<rect x="333" y="496" width="1" height="1" fill="#ff0000"/>
<rect x="354" y="496" width="1" height="1" fill="#ff0000"/>
<rect x="529" y="496" width="1" height="1" fill="#ff0000"/>
<rect x="600" y="496" width="1" height="1" fill="#ff0000"/>
<rect x="211" y="403" width="3" height="1" fill="#ff0000"/>
<rect x="217" y="403" width="3" height="1" fill="#ff0000"/>
<rect x="223" y="403" width="1" height="1" fill="#ff0000"/>
<rect x="535" y="526" width="1" height="1" fill="#ff0000"/>
<rect x="267" y="464" width="1" height="1" fill="#ff0000"/>
<rect x="425" y="464" width="2" height="1" fill="#ff0000"/>
<rect x="517" y="464" width="1" height="1" fill="#ff0000"/>
<rect x="542" y="550" width="1" height="1" fill="#ff0000"/>
<rect x="724" y="550" width="2" height="1" fill="#ff0000"/>
<rect x="538" y="536" width="1" height="1" fill="#ff0000"/>
<rect x="562" y="536" width="1" height="1" fill="#ff0000"/>
<rect x="648" y="536" width="1" height="1" fill="#ff0000"/>
<rect x="256" y="440" width="1" height="1" fill="#ff0000"/>
<rect x="442" y="440" width="1" height="1" fill="#ff0000"/>
<rect x="477" y="440" width="2" height="1" fill="#ff0000"/>
<rect x="7" y="436" width="1" height="1" fill="#ff0000"/>
<rect x="188" y="436" width="1" height="1" fill="#ff0000"/>
<rect x="452" y="436" width="3" height="1" fill="#ff0000"/>
<rect x="458" y="436" width="3" height="1" fill="#ff0000"/>
<rect x="689" y="561" width="1" height="1" fill="#ff0000"/>
<rect x="252" y="434" width="1" height="1" fill="#ff0000"/>
<rect x="14" y="447" width="1" height="1" fill="#ff0000"/>
<rect x="183" y="447" width="1" height="1" fill="#ff0000"/>
<rect x="438" y="447" width="1" height="1" fill="#ff0000"/>
<rect x="276" y="488" width="1" height="1" fill="#ff0000"/>
<rect x="360" y="488" width="1" height="1" fill="#ff0000"/>
<rect x="527" y="488" width="1" height="1" fill="#ff0000"/>
<rect x="617" y="488" width="1" height="1" fill="#ff0000"/>
<rect x="64" y="473" width="1" height="1" fill="#ff0000"/>
<rect x="156" y="473" width="1" height="1" fill="#ff0000"/>
<rect x="390" y="473" width="1" height="1" fill="#ff0000"/>
<rect x="394" y="473" width="3" height="1" fill="#ff0000"/>
<rect x="113" y="504" width="3" height="1" fill="#ff0000"/>
<rect x="536" y="530" width="1" height="1" fill="#ff0000"/>
<rect x="566" y="530" width="1" height="1" fill="#ff0000"/>
<rect x="644" y="530" width="1" height="1" fill="#ff0000"/>
<rect x="676" y="564" width="3" height="1" fill="#ff0000"/>
<rect x="11" y="442" width="1" height="1" fill="#ff0000"/>
<rect x="186" y="442" width="1" height="1" fill="#ff0000"/>
<rect x="441" y="442" width="1" height="1" fill="#ff0000"/>
<rect x="482" y="442" width="2" height="1" fill="#ff0000"/>
<rect x="12" y="443" width="1" height="1" fill="#ff0000"/>
<rect x="185" y="443" width="1" height="1" fill="#ff0000"/>
<rect x="484" y="443" width="1" height="1" fill="#ff0000"/>
<rect x="256" y="439" width="1" height="1" fill="#ff0000"/>
<rect x="476" y="439" width="1" height="1" fill="#ff0000"/>
<rect x="245" y="426" width="1" height="1" fill="#ff0000"/>
<rect x="588" y="509" width="1" height="1" fill="#ff0000"/>
<rect x="148" y="484" width="1" height="1" fill="#ff0000"/>
<rect x="362" y="484" width="1" height="1" fill="#ff0000"/>
<rect x="526" y="484" width="1" height="1" fill="#ff0000"/>
<rect x="251" y="433" width="1" height="1" fill="#ff0000"/>
<rect x="229" y="410" width="2" height="1" fill="#ff0000"/>
<rect x="144" y="489" width="1" height="1" fill="#ff0000"/>
<rect x="359" y="489" width="1" height="1" fill="#ff0000"/>
<rect x="527" y="489" width="1" height="1" fill="#ff0000"/>
<rect x="607" y="489" width="1" height="1" fill="#ff0000"/>
<rect x="618" y="489" width="2" height="1" fill="#ff0000"/>
<rect x="199" y="413" width="1" height="1" fill="#ff0000"/>
<rect x="20" y="451" width="1" height="1" fill="#ff0000"/>
<rect x="262" y="451" width="1" height="1" fill="#ff0000"/>
<rect x="167" y="460" width="1" height="1" fill="#ff0000"/>
<rect x="429" y="460" width="1" height="1" fill="#ff0000"/>
<rect x="513" y="460" width="2" height="1" fill="#ff0000"/>
<rect x="583" y="515" width="1" height="1" fill="#ff0000"/>
<rect x="4" y="430" width="1" height="1" fill="#ff0000"/>
<rect x="191" y="430" width="1" height="1" fill="#ff0000"/>
<rect x="21" y="452" width="2" height="1" fill="#ff0000"/>
<rect x="263" y="452" width="1" height="1" fill="#ff0000"/>
<rect x="435" y="452" width="1" height="1" fill="#ff0000"/>
<rect x="236" y="416" width="1" height="1" fill="#ff0000"/>
<rect x="34" y="458" width="1" height="1" fill="#ff0000"/>
<rect x="38" y="458" width="3" height="1" fill="#ff0000"/>
<rect x="265" y="458" width="1" height="1" fill="#ff0000"/>
<rect x="431" y="458" width="1" height="1" fill="#ff0000"/>
<rect x="157" y="471" width="1" height="1" fill="#ff0000"/>
<rect x="372" y="471" width="1" height="1" fill="#ff0000"/>
<rect x="400" y="471" width="1" height="1" fill="#ff0000"/>
<rect x="521" y="471" width="1" height="1" fill="#ff0000"/>
<rect x="57" y="462" width="1" height="1" fill="#ff0000"/>
<rect x="266" y="462" width="1" height="1" fill="#ff0000"/>
<rect x="26" y="454" width="2" height="1" fill="#ff0000"/>
<rect x="177" y="454" width="2" height="1" fill="#ff0000"/>
<rect x="434" y="454" width="1" height="1" fill="#ff0000"/>
<rect x="502" y="454" width="1" height="1" fill="#ff0000"/>
<rect x="567" y="529" width="1" height="1" fill="#ff0000"/>
<rect x="644" y="529" width="1" height="1" fill="#ff0000"/>
<rect x="153" y="477" width="1" height="1" fill="#ff0000"/>
<rect x="368" y="477" width="1" height="1" fill="#ff0000"/>
<rect x="523" y="477" width="1" height="1" fill="#ff0000"/>
<rect x="533" y="518" width="1" height="1" fill="#ff0000"/>
<rect x="638" y="518" width="1" height="1" fill="#ff0000"/>
<rect x="83" y="502" width="1" height="1" fill="#ff0000"/>
<rect x="119" y="502" width="1" height="1" fill="#ff0000"/>
<rect x="343" y="502" width="2" height="1" fill="#ff0000"/>
<rect x="530" y="502" width="1" height="1" fill="#ff0000"/>
<rect x="594" y="502" width="1" height="1" fill="#ff0000"/>
<rect x="194" y="423" width="1" height="1" fill="#ff0000"/>
<rect x="534" y="519" width="1" height="1" fill="#ff0000"/>
<rect x="579" y="519" width="1" height="1" fill="#ff0000"/>
<rect x="639" y="519" width="1" height="1" fill="#ff0000"/>
<rect x="79" y="499" width="1" height="1" fill="#ff0000"/>
<rect x="125" y="499" width="1" height="1" fill="#ff0000"/>
<rect x="289" y="499" width="1" height="1" fill="#ff0000"/>
<rect x="337" y="499" width="2" height="1" fill="#ff0000"/>
<rect x="627" y="499" width="1" height="1" fill="#ff0000"/>
<rect x="206" y="406" width="1" height="1" fill="#ff0000"/>
<rect x="15" y="448" width="1" height="1" fill="#ff0000"/>
<rect x="183" y="448" width="1" height="1" fill="#ff0000"/>
<rect x="437" y="448" width="1" height="1" fill="#ff0000"/>
<rect x="494" y="448" width="1" height="1" fill="#ff0000"/>
<rect x="57" y="463" width="1" height="1" fill="#ff0000"/>
<rect x="267" y="463" width="1" height="1" fill="#ff0000"/>
<rect x="66" y="479" width="1" height="1" fill="#ff0000"/>
<rect x="151" y="479" width="1" height="1" fill="#ff0000"/>
<rect x="259" y="445" width="1" height="1" fill="#ff0000"/>
<rect x="488" y="445" width="2" height="1" fill="#ff0000"/>
<rect x="560" y="540" width="1" height="1" fill="#ff0000"/>
<rect x="540" y="543" width="1" height="1" fill="#ff0000"/>
<rect x="653" y="543" width="1" height="1" fill="#ff0000"/>
<rect x="572" y="523" width="2" height="1" fill="#ff0000"/>
<rect x="641" y="523" width="1" height="1" fill="#ff0000"/>
<rect x="255" y="438" width="1" height="1" fill="#ff0000"/>
<rect x="446" y="438" width="2" height="1" fill="#ff0000"/>
<rect x="67" y="481" width="1" height="1" fill="#ff0000"/>
<rect x="273" y="481" width="1" height="1" fill="#ff0000"/>
<rect x="70" y="486" width="1" height="1" fill="#ff0000"/>
<rect x="275" y="486" width="1" height="1" fill="#ff0000"/>
<rect x="56" y="461" width="1" height="1" fill="#ff0000"/>
<rect x="165" y="461" width="2" height="1" fill="#ff0000"/>
<rect x="161" y="466" width="1" height="1" fill="#ff0000"/>
<rect x="413" y="466" width="2" height="1" fill="#ff0000"/>
<rect x="518" y="466" width="1" height="1" fill="#ff0000"/>
<rect x="539" y="542" width="1" height="1" fill="#ff0000"/>
<rect x="559" y="542" width="1" height="1" fill="#ff0000"/>
<rect x="652" y="542" width="1" height="1" fill="#ff0000"/>
<rect x="531" y="507" width="1" height="1" fill="#ff0000"/>
<rect x="590" y="507" width="1" height="1" fill="#ff0000"/>
<rect x="632" y="507" width="1" height="1" fill="#ff0000"/>
<rect x="148" y="483" width="1" height="1" fill="#ff0000"/>
<rect x="363" y="483" width="1" height="1" fill="#ff0000"/>
<rect x="525" y="483" width="1" height="1" fill="#ff0000"/>
<rect x="10" y="441" width="1" height="1" fill="#ff0000"/>
<rect x="186" y="441" width="1" height="1" fill="#ff0000"/>
<rect x="441" y="441" width="1" height="1" fill="#ff0000"/>
<rect x="224" y="404" width="1" height="1" fill="#ff0000"/>
<rect x="544" y="556" width="1" height="1" fill="#ff0000"/>
<rect x="695" y="556" width="1" height="1" fill="#ff0000"/>
<rect x="73" y="491" width="1" height="1" fill="#ff0000"/>
<rect x="143" y="491" width="1" height="1" fill="#ff0000"/>
<rect x="605" y="491" width="1" height="1" fill="#ff0000"/>
<rect x="207" y="405" width="1" height="1" fill="#ff0000"/>
<rect x="225" y="405" width="1" height="1" fill="#ff0000"/>
<rect x="554" y="553" width="1" height="1" fill="#ff0000"/>
<rect x="659" y="553" width="1" height="1" fill="#ff0000"/>
<rect x="670" y="562" width="1" height="1" fill="#ff0000"/>
<rect x="688" y="562" width="1" height="1" fill="#ff0000"/>
<rect x="536" y="531" width="1" height="1" fill="#ff0000"/>
<rect x="645" y="531" width="1" height="1" fill="#ff0000"/>
<rect x="197" y="418" width="1" height="1" fill="#ff0000"/>
<rect x="193" y="425" width="1" height="1" fill="#ff0000"/>
<rect x="173" y="456" width="1" height="1" fill="#ff0000"/>
<rect x="264" y="456" width="1" height="1" fill="#ff0000"/>
<rect x="506" y="456" width="2" height="1" fill="#ff0000"/>
<rect x="201" y="411" width="1" height="1" fill="#ff0000"/>
<rect x="664" y="559" width="2" height="1" fill="#ff0000"/>
<rect x="532" y="513" width="1" height="1" fill="#ff0000"/>
<rect x="585" y="513" width="1" height="1" fill="#ff0000"/>
<rect x="636" y="513" width="1" height="1" fill="#ff0000"/>
<rect x="65" y="475" width="1" height="1" fill="#ff0000"/>
<rect x="271" y="475" width="1" height="1" fill="#ff0000"/>
<rect x="246" y="427" width="1" height="1" fill="#ff0000"/>
<rect x="260" y="446" width="1" height="1" fill="#ff0000"/>
<rect x="438" y="446" width="1" height="1" fill="#ff0000"/>
<rect x="490" y="446" width="1" height="1" fill="#ff0000"/>
<rect x="197" y="417" width="1" height="1" fill="#ff0000"/>
<rect x="84" y="503" width="2" height="1" fill="#ff0000"/>
<rect x="593" y="503" width="1" height="1" fill="#ff0000"/>
<rect x="535" y="525" width="1" height="1" fill="#ff0000"/>
<rect x="642" y="525" width="1" height="1" fill="#ff0000"/>
<rect x="535" y="524" width="1" height="1" fill="#ff0000"/>
<rect x="571" y="524" width="1" height="1" fill="#ff0000"/>
<rect x="641" y="524" width="1" height="1" fill="#ff0000"/>
<rect x="28" y="455" width="1" height="1" fill="#ff0000"/>
<rect x="64" y="474" width="1" height="1" fill="#ff0000"/>
<rect x="271" y="474" width="1" height="1" fill="#ff0000"/>
<rect x="666" y="560" width="1" height="1" fill="#ff0000"/>
<rect x="690" y="560" width="1" height="1" fill="#ff0000"/>
<rect x="4" y="431" width="1" height="1" fill="#ff0000"/>
<rect x="191" y="431" width="1" height="1" fill="#ff0000"/>
<rect x="634" y="511" width="1" height="1" fill="#ff0000"/>
<rect x="241" y="422" width="1" height="1" fill="#ff0000"/>
<rect x="538" y="538" width="1" height="1" fill="#ff0000"/>
<rect x="533" y="514" width="1" height="1" fill="#ff0000"/>
<rect x="584" y="514" width="1" height="1" fill="#ff0000"/>
<rect x="531" y="508" width="1" height="1" fill="#ff0000"/>
<rect x="589" y="508" width="1" height="1" fill="#ff0000"/>
<rect x="537" y="532" width="1" height="1" fill="#ff0000"/>
<rect x="259" y="444" width="1" height="1" fill="#ff0000"/>
<rect x="200" y="412" width="1" height="1" fill="#ff0000"/>
<rect x="559" y="541" width="1" height="1" fill="#ff0000"/>
<rect x="652" y="541" width="1" height="1" fill="#ff0000"/>
<rect x="3" y="429" width="1" height="1" fill="#ff0000"/>
<rect x="191" y="429" width="1" height="1" fill="#ff0000"/>
<rect x="568" y="528" width="1" height="1" fill="#ff0000"/>
<rect x="240" y="420" width="1" height="1" fill="#ff0000"/>
<rect x="563" y="534" width="1" height="1" fill="#ff0000"/>
<rect x="247" y="428" width="1" height="1" fill="#ff0000"/>
<rect x="543" y="555" width="1" height="1" fill="#ff0000"/>
<rect x="661" y="555" width="1" height="1" fill="#ff0000"/>
<rect x="696" y="555" width="1" height="1" fill="#ff0000"/>
<rect x="548" y="558" width="1" height="1" fill="#ff0000"/>
<rect x="228" y="409" width="1" height="1" fill="#ff0000"/>
<rect x="205" y="407" width="1" height="1" fill="#ff0000"/>
<rect x="194" y="424" width="1" height="1" fill="#ff0000"/>
<rect x="555" y="552" width="1" height="1" fill="#ff0000"/>
<rect x="700" y="552" width="1" height="1" fill="#ff0000"/>
<rect x="250" y="432" width="1" height="1" fill="#ff0000"/>
<rect x="540" y="544" width="1" height="1" fill="#ff0000"/>
<rect x="235" y="415" width="1" height="1" fill="#ff0000"/>
<rect x="2" y="2" width="756" height="1" fill="#000"/>
<rect x="2" y="386" width="756" height="1" fill="#000"/>
<rect x="2" y="2" width="1" height="385" fill="#000"/>
<rect x="757" y="2" width="1" height="385" fill="#000"/>
<rect x="2" y="388" width="756" height="1" fill="#000"/>
<rect x="2" y="579" width="756" height="1" fill="#000"/>
<rect x="2" y="388" width="1" height="192" fill="#000"/>
<rect x="757" y="388" width="1" height="192" fill="#000"/>
<rect x="758" y="20" width="2" height="1" fill="#000"/>
<text x="763.5" y="24" fill="#000" stroke="#000" stroke-width="0.15" font-size="9.8" text-anchor="start" textLength="32.5" lengthAdjust="spacingAndGlyphs">1.42450</text>
<rect x="758" y="53" width="2" height="1" fill="#000"/>
<text x="763.5" y="57" fill="#000" stroke="#000" stroke-width="0.15" font-size="9.8" text-anchor="start" textLength="32.5" lengthAdjust="spacingAndGlyphs">1.42205</text>
<rect x="758" y="86" width="2" height="1" fill="#000"/>
<text x="763.5" y="90" fill="#000" stroke="#000" stroke-width="0.15" font-size="9.8" text-anchor="start" textLength="32.5" lengthAdjust="spacingAndGlyphs">1.41960</text>
<rect x="758" y="119" width="2" height="1" fill="#000"/>
<text x="763.5" y="123" fill="#000" stroke="#000" stroke-width="0.15" font-size="9.8" text-anchor="start" textLength="32.5" lengthAdjust="spacingAndGlyphs">1.41715</text>
<rect x="758" y="152" width="2" height="1" fill="#000"/>
<text x="763.5" y="156" fill="#000" stroke="#000" stroke-width="0.15" font-size="9.8" text-anchor="start" textLength="32.5" lengthAdjust="spacingAndGlyphs">1.41475</text>
<rect x="758" y="185" width="2" height="1" fill="#000"/>
<text x="763.5" y="189" fill="#000" stroke="#000" stroke-width="0.15" font-size="9.8" text-anchor="start" textLength="32.5" lengthAdjust="spacingAndGlyphs">1.41230</text>
<rect x="758" y="218" width="2" height="1" fill="#000"/>
<text x="763.5" y="222" fill="#000" stroke="#000" stroke-width="0.15" font-size="9.8" text-anchor="start" textLength="32.5" lengthAdjust="spacingAndGlyphs">1.40985</text>
<rect x="758" y="251" width="2" height="1" fill="#000"/>
<text x="763.5" y="255" fill="#000" stroke="#000" stroke-width="0.15" font-size="9.8" text-anchor="start" textLength="32.5" lengthAdjust="spacingAndGlyphs">1.40740</text>
<rect x="758" y="284" width="2" height="1" fill="#000"/>
<text x="763.5" y="288" fill="#000" stroke="#000" stroke-width="0.15" font-size="9.8" text-anchor="start" textLength="32.5" lengthAdjust="spacingAndGlyphs">1.40500</text>
<rect x="758" y="317" width="2" height="1" fill="#000"/>
<text x="763.5" y="321" fill="#000" stroke="#000" stroke-width="0.15" font-size="9.8" text-anchor="start" textLength="32.5" lengthAdjust="spacingAndGlyphs">1.40255</text>
<rect x="758" y="350" width="2" height="1" fill="#000"/>
<text x="763.5" y="354" fill="#000" stroke="#000" stroke-width="0.15" font-size="9.8" text-anchor="start" textLength="32.5" lengthAdjust="spacingAndGlyphs">1.40010</text>
<rect x="758" y="383" width="2" height="1" fill="#000"/>
<text x="763.5" y="387" fill="#000" stroke="#000" stroke-width="0.15" font-size="9.8" text-anchor="start" textLength="32.5" lengthAdjust="spacingAndGlyphs">1.39765</text>
<rect x="759" y="16" width="41" height="11" fill="#ff0000"/>
<text x="763.5" y="25" fill="#fff" stroke="#fff" stroke-width="0.15" font-size="9.8" text-anchor="start" textLength="32.5" lengthAdjust="spacingAndGlyphs">1.42430</text>
<rect x="759" y="113" width="41" height="11" fill="#ff0000"/>
<text x="763.5" y="122" fill="#fff" stroke="#fff" stroke-width="0.15" font-size="9.8" text-anchor="start" textLength="32.5" lengthAdjust="spacingAndGlyphs">1.41715</text>
<rect x="759" y="201" width="41" height="11" fill="#ff0000"/>
<text x="763.5" y="210" fill="#fff" stroke="#fff" stroke-width="0.15" font-size="9.8" text-anchor="start" textLength="32.5" lengthAdjust="spacingAndGlyphs">1.41065</text>
<rect x="759" y="370" width="41" height="11" fill="#ff0000"/>
<text x="763.5" y="379" fill="#fff" stroke="#fff" stroke-width="0.15" font-size="9.8" text-anchor="start" textLength="32.5" lengthAdjust="spacingAndGlyphs">1.39821</text>
<rect x="758" y="254" width="2" height="1" fill="#000"/>
<rect x="759" y="249" width="41" height="11" fill="#000"/>
<text x="763.5" y="258" fill="#fff" stroke="#fff" stroke-width="0.15" font-size="9.8" text-anchor="start" textLength="32.5" lengthAdjust="spacingAndGlyphs">1.40719</text>
<rect x="758" y="390" width="2" height="1" fill="#000"/>
<text x="761.3" y="399" fill="#000" stroke="#000" stroke-width="0.15" font-size="9.8" text-anchor="start" textLength="37.2" lengthAdjust="spacingAndGlyphs">0.008259</text>
<rect x="758" y="497" width="2" height="1" fill="#000"/>
<text x="761" y="501" fill="#000" stroke="#000" stroke-width="0.15" font-size="9.8" text-anchor="start" textLength="18.2" lengthAdjust="spacingAndGlyphs">0.00</text>
<rect x="758" y="578" width="2" height="1" fill="#000"/>
<text x="761" y="576" fill="#000" stroke="#000" stroke-width="0.15" font-size="9.8" text-anchor="start" textLength="41" lengthAdjust="spacingAndGlyphs">-0.006255</text>
<rect x="3" y="580" width="1" height="3" fill="#000"/>
<text x="2.2" y="592" fill="#000" stroke="#000" stroke-width="0.15" font-size="9.8" text-anchor="start" textLength="51.5" lengthAdjust="spacingAndGlyphs">19 Mar 2018</text>
<rect x="67" y="580" width="1" height="3" fill="#000"/>
<text x="66.2" y="592" fill="#000" stroke="#000" stroke-width="0.15" font-size="9.8" text-anchor="start" textLength="54.2" lengthAdjust="spacingAndGlyphs">20 Mar 15:00</text>
<rect x="131" y="580" width="1" height="3" fill="#000"/>
<text x="130.2" y="592" fill="#000" stroke="#000" stroke-width="0.15" font-size="9.8" text-anchor="start" textLength="54.2" lengthAdjust="spacingAndGlyphs">21 Mar 07:00</text>
<rect x="195" y="580" width="1" height="3" fill="#000"/>
<text x="194.2" y="592" fill="#000" stroke="#000" stroke-width="0.15" font-size="9.8" text-anchor="start" textLength="54.2" lengthAdjust="spacingAndGlyphs">21 Mar 23:00</text>
<rect x="259" y="580" width="1" height="3" fill="#000"/>
<text x="258.2" y="592" fill="#000" stroke="#000" stroke-width="0.15" font-size="9.8" text-anchor="start" textLength="54.2" lengthAdjust="spacingAndGlyphs">22 Mar 15:00</text>
<rect x="323" y="580" width="1" height="3" fill="#000"/>
<text x="322.2" y="592" fill="#000" stroke="#000" stroke-width="0.15" font-size="9.8" text-anchor="start" textLength="54.2" lengthAdjust="spacingAndGlyphs">23 Mar 07:00</text>
<rect x="387" y="580" width="1" height="3" fill="#000"/>
<text x="386.2" y="592" fill="#000" stroke="#000" stroke-width="0.15" font-size="9.8" text-anchor="start" textLength="54.2" lengthAdjust="spacingAndGlyphs">26 Mar 00:00</text>
<rect x="451" y="580" width="1" height="3" fill="#000"/>
<text x="450.2" y="592" fill="#000" stroke="#000" stroke-width="0.15" font-size="9.8" text-anchor="start" textLength="54.2" lengthAdjust="spacingAndGlyphs">26 Mar 16:00</text>
<rect x="515" y="580" width="1" height="3" fill="#000"/>
<text x="514.2" y="592" fill="#000" stroke="#000" stroke-width="0.15" font-size="9.8" text-anchor="start" textLength="54.2" lengthAdjust="spacingAndGlyphs">27 Mar 08:00</text>
<rect x="579" y="580" width="1" height="3" fill="#000"/>
<text x="578.2" y="592" fill="#000" stroke="#000" stroke-width="0.15" font-size="9.8" text-anchor="start" textLength="54.2" lengthAdjust="spacingAndGlyphs">28 Mar 00:00</text>
<rect x="643" y="580" width="1" height="3" fill="#000"/>
<text x="642.2" y="592" fill="#000" stroke="#000" stroke-width="0.15" font-size="9.8" text-anchor="start" textLength="54.2" lengthAdjust="spacingAndGlyphs">28 Mar 16:00</text>
<rect x="707" y="580" width="1" height="3" fill="#000"/>
<text x="706.2" y="592" fill="#000" stroke="#000" stroke-width="0.15" font-size="9.8" text-anchor="start" textLength="54.2" lengthAdjust="spacingAndGlyphs">29 Mar 08:00</text>
<polygon points="6,9 13,9 9.5,12.6" fill="#000"/>
<text x="18.3" y="14" fill="#000" stroke="#000" stroke-width="0.15" font-size="9.8" text-anchor="start" textLength="53.3" lengthAdjust="spacingAndGlyphs">GBPUSD,H1</text>
<text x="8" y="401" fill="#000" stroke="#000" stroke-width="0.15" font-size="9.8" text-anchor="start" textLength="148" lengthAdjust="spacingAndGlyphs">MACD(5,34,5) -0.002866 -0.003787</text>
</svg>
</body></html>
